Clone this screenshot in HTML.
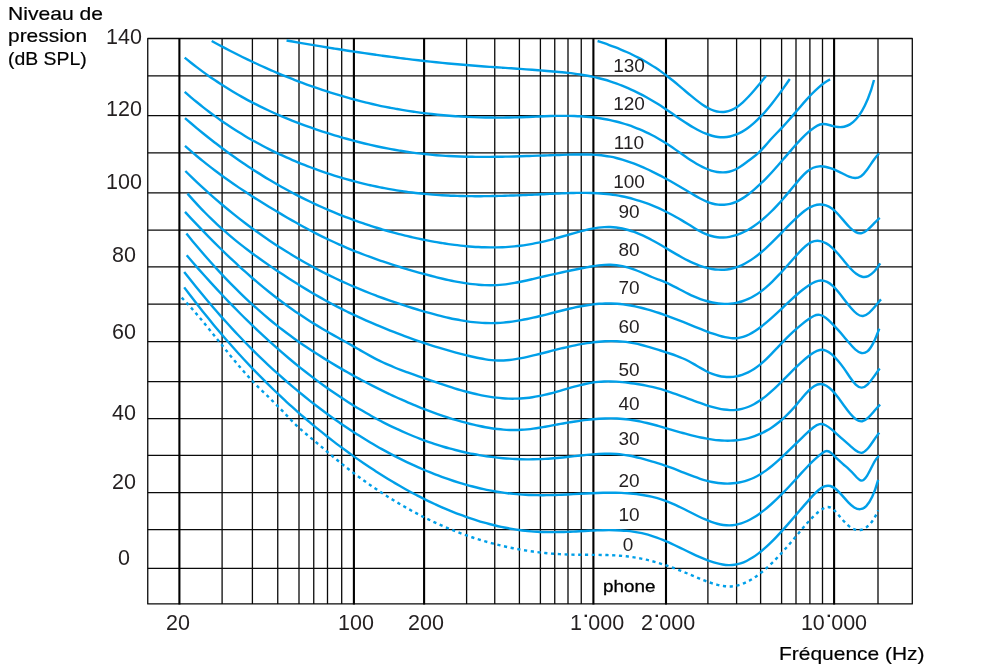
<!DOCTYPE html>
<html lang="fr"><head><meta charset="utf-8"><title>Courbes isosoniques</title>
<style>
html,body{margin:0;padding:0;background:#fff}
body{width:1000px;height:671px;position:relative;overflow:hidden;font-family:"Liberation Sans",sans-serif;color:#231f20}
.t{will-change:transform;position:absolute;white-space:nowrap;line-height:1;font-family:"Liberation Sans",sans-serif}
.d{color:#000;transform-origin:0 0}
.dr{color:#000;transform-origin:100% 0}
</style></head><body>
<svg width="1000" height="671" viewBox="0 0 1000 671" style="position:absolute;left:0;top:0">
<path d="M147.75 75.95H912.30M147.75 115.50H912.30M147.75 152.90H912.30M147.75 192.95H912.30M147.75 230.00H912.30M147.75 266.95H912.30M147.75 304.00H912.30M147.75 341.50H912.30M147.75 381.50H912.30M147.75 418.50H912.30M147.75 455.30H912.30M147.75 492.50H912.30M147.75 529.50H912.30M147.75 568.40H912.30" stroke="#0a0a0a" stroke-width="1.25" fill="none"/>
<path d="M222.10 38.50V603.95M252.40 38.50V603.95M277.75 38.50V603.95M299.00 38.50V603.95M313.75 38.50V603.95M327.50 38.50V603.95M341.70 38.50V603.95M466.60 38.50V603.95M494.75 38.50V603.95M519.40 38.50V603.95M540.40 38.50V603.95M554.75 38.50V603.95M568.00 38.50V603.95M581.25 38.50V603.95M707.90 38.50V603.95M736.60 38.50V603.95M760.60 38.50V603.95M781.60 38.50V603.95M796.00 38.50V603.95M809.90 38.50V603.95M822.50 38.50V603.95M878.00 38.50V603.95" stroke="#0a0a0a" stroke-width="1.3" fill="none"/>
<path d="M147.75 38.50H912.30V603.95H147.75Z" stroke="#0a0a0a" stroke-width="1.3" fill="none" stroke-linejoin="round"/>
<path d="M179.40 38.00V604.45M353.90 38.00V604.45M424.10 38.00V604.45M593.40 38.00V604.45M666.00 38.00V604.45M834.10 38.00V604.45" stroke="#000" stroke-width="2.1" fill="none"/>
<path d="M597.60 41.00C599.54 41.64 601.47 42.29 603.41 42.95C605.35 43.62 607.28 44.30 609.22 45.01C611.16 45.71 613.09 46.44 615.03 47.19C616.97 47.94 618.90 48.72 620.84 49.52C622.78 50.33 624.71 51.16 626.65 52.02C628.59 52.89 630.53 53.79 632.46 54.72C634.40 55.65 636.34 56.62 638.27 57.63C640.21 58.64 642.15 59.69 644.08 60.78C646.02 61.87 647.96 63.00 649.89 64.19C651.83 65.37 653.77 66.59 655.70 67.87C657.64 69.15 659.58 70.48 661.51 71.86C663.45 73.25 665.39 74.68 667.32 76.18C669.26 77.67 671.20 79.22 673.13 80.80C675.07 82.38 677.01 83.99 678.94 85.62C680.88 87.25 682.82 88.90 684.76 90.54C686.69 92.18 688.63 93.83 690.57 95.44C692.50 97.05 694.44 98.64 696.38 100.14C698.31 101.65 700.25 103.09 702.19 104.40C704.12 105.72 706.06 106.91 708.00 107.95C709.93 108.99 711.87 109.86 713.81 110.53C715.74 111.20 717.68 111.67 719.62 111.88C721.55 112.10 723.49 112.06 725.43 111.76C727.36 111.46 729.30 110.90 731.24 110.08C733.17 109.27 735.11 108.20 737.05 106.89C738.99 105.57 740.92 104.02 742.86 102.28C744.80 100.54 746.73 98.60 748.67 96.54C750.61 94.47 752.54 92.27 754.48 90.00C756.42 87.73 758.35 85.40 760.29 83.06C762.23 80.71 764.16 78.37 766.10 76.09" stroke="#009fe8" stroke-width="2.4" fill="none" stroke-linecap="butt" stroke-linejoin="round"/>
<path d="M286.55 40.49C288.55 40.84 290.54 41.19 292.54 41.54C294.54 41.89 296.54 42.23 298.53 42.58C300.53 42.92 302.53 43.26 304.52 43.60C306.52 43.94 308.52 44.28 310.51 44.62C312.51 44.96 314.51 45.29 316.51 45.62C318.50 45.95 320.50 46.29 322.50 46.61C324.49 46.94 326.49 47.27 328.49 47.59C330.48 47.91 332.48 48.24 334.48 48.56C336.48 48.87 338.47 49.19 340.47 49.50C342.47 49.82 344.46 50.13 346.46 50.44C348.46 50.75 350.45 51.06 352.45 51.36C354.45 51.66 356.45 51.96 358.44 52.26C360.44 52.56 362.44 52.86 364.43 53.15C366.43 53.44 368.43 53.73 370.43 54.02C372.42 54.30 374.42 54.59 376.42 54.87C378.41 55.15 380.41 55.43 382.41 55.70C384.40 55.98 386.40 56.25 388.40 56.52C390.40 56.78 392.39 57.05 394.39 57.31C396.39 57.57 398.38 57.83 400.38 58.08C402.38 58.34 404.37 58.59 406.37 58.84C408.37 59.08 410.37 59.33 412.36 59.57C414.36 59.81 416.36 60.04 418.35 60.27C420.35 60.51 422.35 60.74 424.34 60.96C426.34 61.19 428.34 61.41 430.34 61.62C432.33 61.84 434.33 62.05 436.33 62.26C438.32 62.47 440.32 62.67 442.32 62.88C444.31 63.08 446.31 63.27 448.31 63.46C450.31 63.66 452.30 63.84 454.30 64.03C456.30 64.21 458.29 64.39 460.29 64.56C462.29 64.74 464.29 64.91 466.28 65.07C468.28 65.24 470.28 65.40 472.27 65.55C474.27 65.71 476.27 65.86 478.26 66.01C480.26 66.16 482.26 66.31 484.26 66.45C486.25 66.59 488.25 66.74 490.25 66.87C492.24 67.01 494.24 67.15 496.24 67.29C498.23 67.42 500.23 67.56 502.23 67.69C504.23 67.83 506.22 67.96 508.22 68.10C510.22 68.23 512.21 68.36 514.21 68.50C516.21 68.63 518.20 68.77 520.20 68.91C522.20 69.05 524.20 69.19 526.19 69.33C528.19 69.47 530.19 69.61 532.18 69.76C534.18 69.91 536.18 70.06 538.17 70.21C540.17 70.37 542.17 70.52 544.17 70.69C546.16 70.85 548.16 71.01 550.16 71.19C552.15 71.36 554.15 71.53 556.15 71.72C558.15 71.90 560.14 72.09 562.14 72.29C564.14 72.49 566.13 72.70 568.13 72.93C570.13 73.15 572.12 73.39 574.12 73.65C576.12 73.91 578.12 74.19 580.11 74.50C582.11 74.80 584.11 75.13 586.10 75.48C588.10 75.83 590.10 76.22 592.09 76.63C594.09 77.04 596.09 77.49 598.09 77.97C600.08 78.45 602.08 78.97 604.08 79.53C606.07 80.08 608.07 80.68 610.07 81.32C612.06 81.96 614.06 82.65 616.06 83.37C618.06 84.10 620.05 84.86 622.05 85.66C624.05 86.47 626.04 87.31 628.04 88.19C630.04 89.07 632.04 89.98 634.03 90.93C636.03 91.88 638.03 92.87 640.02 93.89C642.02 94.90 644.02 95.95 646.01 97.04C648.01 98.13 650.01 99.26 652.01 100.43C654.00 101.60 656.00 102.82 658.00 104.08C659.99 105.34 661.99 106.65 663.99 107.98C665.98 109.31 667.98 110.67 669.98 112.04C671.98 113.41 673.97 114.78 675.97 116.15C677.97 117.52 679.96 118.88 681.96 120.21C683.96 121.55 685.95 122.85 687.95 124.12C689.95 125.38 691.95 126.60 693.94 127.76C695.94 128.91 697.94 130.00 699.93 131.01C701.93 132.01 703.93 132.92 705.92 133.72C707.92 134.52 709.92 135.21 711.92 135.76C713.91 136.32 715.91 136.74 717.91 137.00C719.90 137.26 721.90 137.36 723.90 137.29C725.90 137.21 727.89 136.96 729.89 136.53C731.89 136.10 733.88 135.49 735.88 134.72C737.88 133.94 739.87 132.99 741.87 131.88C743.87 130.76 745.87 129.47 747.86 128.02C749.86 126.57 751.86 124.96 753.85 123.19C755.85 121.42 757.85 119.51 759.84 117.46C761.84 115.41 763.84 113.23 765.84 110.93C767.83 108.63 769.83 106.22 771.83 103.71C773.82 101.19 775.82 98.58 777.82 95.89C779.81 93.20 781.81 90.43 783.81 87.61C785.81 84.78 787.80 81.90 789.80 78.98" stroke="#009fe8" stroke-width="2.4" fill="none" stroke-linecap="butt" stroke-linejoin="round"/>
<path d="M211.70 41.02C213.68 42.11 215.66 43.19 217.65 44.25C219.63 45.32 221.61 46.37 223.59 47.42C225.57 48.46 227.56 49.49 229.54 50.52C231.52 51.54 233.50 52.55 235.48 53.55C237.47 54.54 239.45 55.53 241.43 56.51C243.41 57.48 245.39 58.45 247.38 59.40C249.36 60.35 251.34 61.29 253.32 62.22C255.31 63.15 257.29 64.07 259.27 64.98C261.25 65.89 263.23 66.78 265.22 67.67C267.20 68.55 269.18 69.42 271.16 70.28C273.14 71.14 275.13 71.99 277.11 72.83C279.09 73.67 281.07 74.49 283.05 75.31C285.04 76.12 287.02 76.93 289.00 77.72C290.98 78.51 292.96 79.29 294.95 80.05C296.93 80.82 298.91 81.58 300.89 82.32C302.87 83.07 304.86 83.80 306.84 84.52C308.82 85.24 310.80 85.95 312.78 86.65C314.77 87.34 316.75 88.03 318.73 88.70C320.71 89.37 322.69 90.04 324.68 90.68C326.66 91.33 328.64 91.97 330.62 92.60C332.61 93.22 334.59 93.84 336.57 94.44C338.55 95.04 340.53 95.63 342.52 96.21C344.50 96.79 346.48 97.35 348.46 97.90C350.44 98.46 352.43 99.00 354.41 99.53C356.39 100.06 358.37 100.58 360.35 101.08C362.34 101.59 364.32 102.08 366.30 102.56C368.28 103.04 370.26 103.51 372.25 103.97C374.23 104.43 376.21 104.87 378.19 105.30C380.17 105.74 382.16 106.16 384.14 106.56C386.12 106.97 388.10 107.37 390.08 107.75C392.07 108.13 394.05 108.51 396.03 108.86C398.01 109.22 399.99 109.57 401.98 109.91C403.96 110.24 405.94 110.56 407.92 110.88C409.91 111.19 411.89 111.49 413.87 111.77C415.85 112.06 417.83 112.34 419.82 112.60C421.80 112.87 423.78 113.12 425.76 113.37C427.74 113.61 429.73 113.84 431.71 114.06C433.69 114.28 435.67 114.49 437.65 114.69C439.64 114.89 441.62 115.08 443.60 115.26C445.58 115.43 447.56 115.60 449.55 115.76C451.53 115.91 453.51 116.06 455.49 116.19C457.47 116.33 459.46 116.46 461.44 116.57C463.42 116.69 465.40 116.79 467.38 116.89C469.37 116.98 471.35 117.07 473.33 117.14C475.31 117.22 477.29 117.29 479.28 117.34C481.26 117.40 483.24 117.45 485.22 117.49C487.21 117.52 489.19 117.55 491.17 117.57C493.15 117.59 495.13 117.60 497.12 117.60C499.10 117.61 501.08 117.60 503.06 117.58C505.04 117.57 507.03 117.54 509.01 117.51C510.99 117.47 512.97 117.43 514.95 117.38C516.94 117.33 518.92 117.27 520.90 117.21C522.88 117.14 524.86 117.06 526.85 116.99C528.83 116.91 530.81 116.83 532.79 116.74C534.77 116.66 536.76 116.58 538.74 116.49C540.72 116.41 542.70 116.33 544.68 116.26C546.67 116.19 548.65 116.12 550.63 116.06C552.61 116.00 554.59 115.95 556.58 115.91C558.56 115.88 560.54 115.85 562.52 115.84C564.51 115.83 566.49 115.84 568.47 115.86C570.45 115.89 572.43 115.93 574.42 116.00C576.40 116.07 578.38 116.15 580.36 116.27C582.34 116.38 584.33 116.52 586.31 116.69C588.29 116.86 590.27 117.05 592.25 117.28C594.24 117.50 596.22 117.75 598.20 118.04C600.18 118.33 602.16 118.64 604.15 119.00C606.13 119.35 608.11 119.73 610.09 120.15C612.07 120.57 614.06 121.03 616.04 121.53C618.02 122.02 620.00 122.55 621.98 123.13C623.97 123.70 625.95 124.31 627.93 124.96C629.91 125.62 631.89 126.31 633.88 127.06C635.86 127.80 637.84 128.58 639.82 129.41C641.81 130.24 643.79 131.12 645.77 132.04C647.75 132.96 649.73 133.94 651.72 134.96C653.70 135.98 655.68 137.05 657.66 138.18C659.64 139.30 661.63 140.48 663.61 141.71C665.59 142.94 667.57 144.23 669.55 145.56C671.54 146.89 673.52 148.26 675.50 149.64C677.48 151.03 679.46 152.42 681.45 153.81C683.43 155.20 685.41 156.57 687.39 157.91C689.37 159.25 691.36 160.55 693.34 161.79C695.32 163.02 697.30 164.20 699.28 165.28C701.27 166.37 703.25 167.37 705.23 168.25C707.21 169.13 709.19 169.90 711.18 170.53C713.16 171.16 715.14 171.65 717.12 171.97C719.11 172.29 721.09 172.45 723.07 172.42C725.05 172.39 727.03 172.16 729.02 171.72C731.00 171.28 732.98 170.62 734.96 169.72C736.94 168.82 738.93 167.65 740.91 166.33C742.89 165.00 744.87 163.52 746.85 162.02C748.84 160.52 750.82 159.05 752.80 157.50C754.78 155.96 756.76 154.34 758.75 152.51C760.73 150.68 762.71 148.58 764.69 146.35C766.67 144.12 768.66 141.79 770.64 139.56C772.62 137.34 774.60 135.27 776.58 133.24C778.57 131.22 780.55 129.22 782.53 127.11C784.51 125.00 786.49 122.79 788.48 120.53C790.46 118.27 792.44 115.96 794.42 113.63C796.41 111.31 798.39 108.97 800.37 106.67C802.35 104.36 804.33 102.08 806.32 99.88C808.30 97.67 810.28 95.53 812.26 93.51C814.24 91.48 816.23 89.57 818.21 87.81C820.19 86.05 822.17 84.44 824.15 83.02C826.14 81.61 828.12 80.38 830.10 79.40" stroke="#009fe8" stroke-width="2.4" fill="none" stroke-linecap="butt" stroke-linejoin="round"/>
<path d="M184.70 57.69C186.70 59.33 188.70 60.94 190.69 62.51C192.69 64.09 194.69 65.64 196.69 67.16C198.69 68.67 200.68 70.16 202.68 71.62C204.68 73.08 206.68 74.51 208.68 75.92C210.67 77.32 212.67 78.70 214.67 80.04C216.67 81.39 218.67 82.71 220.66 84.01C222.66 85.30 224.66 86.57 226.66 87.82C228.66 89.06 230.65 90.28 232.65 91.47C234.65 92.67 236.65 93.84 238.65 94.98C240.64 96.13 242.64 97.25 244.64 98.35C246.64 99.45 248.64 100.53 250.63 101.58C252.63 102.64 254.63 103.67 256.63 104.68C258.62 105.70 260.62 106.69 262.62 107.66C264.62 108.63 266.62 109.58 268.61 110.51C270.61 111.44 272.61 112.35 274.61 113.24C276.61 114.14 278.60 115.01 280.60 115.87C282.60 116.73 284.60 117.56 286.60 118.39C288.59 119.21 290.59 120.01 292.59 120.80C294.59 121.59 296.59 122.36 298.58 123.12C300.58 123.88 302.58 124.62 304.58 125.35C306.58 126.08 308.57 126.79 310.57 127.49C312.57 128.19 314.57 128.88 316.57 129.55C318.56 130.23 320.56 130.89 322.56 131.54C324.56 132.19 326.56 132.83 328.55 133.45C330.55 134.08 332.55 134.69 334.55 135.30C336.55 135.90 338.54 136.49 340.54 137.07C342.54 137.66 344.54 138.22 346.54 138.78C348.53 139.34 350.53 139.88 352.53 140.42C354.53 140.95 356.53 141.47 358.52 141.98C360.52 142.49 362.52 142.99 364.52 143.47C366.52 143.96 368.51 144.43 370.51 144.89C372.51 145.35 374.51 145.79 376.51 146.23C378.50 146.66 380.50 147.08 382.50 147.49C384.50 147.90 386.50 148.29 388.49 148.67C390.49 149.06 392.49 149.42 394.49 149.78C396.48 150.13 398.48 150.47 400.48 150.80C402.48 151.13 404.48 151.44 406.47 151.74C408.47 152.04 410.47 152.33 412.47 152.60C414.47 152.87 416.46 153.13 418.46 153.37C420.46 153.62 422.46 153.85 424.46 154.06C426.45 154.28 428.45 154.48 430.45 154.66C432.45 154.85 434.45 155.02 436.44 155.18C438.44 155.34 440.44 155.49 442.44 155.62C444.44 155.76 446.43 155.88 448.43 155.99C450.43 156.10 452.43 156.20 454.43 156.29C456.42 156.37 458.42 156.45 460.42 156.52C462.42 156.59 464.42 156.64 466.41 156.69C468.41 156.74 470.41 156.78 472.41 156.81C474.41 156.84 476.40 156.86 478.40 156.87C480.40 156.89 482.40 156.89 484.40 156.89C486.39 156.89 488.39 156.88 490.39 156.87C492.39 156.85 494.39 156.83 496.38 156.80C498.38 156.78 500.38 156.74 502.38 156.71C504.38 156.67 506.37 156.63 508.37 156.58C510.37 156.53 512.37 156.48 514.37 156.43C516.36 156.37 518.36 156.32 520.36 156.26C522.36 156.20 524.36 156.13 526.35 156.07C528.35 156.00 530.35 155.94 532.35 155.87C534.34 155.80 536.34 155.73 538.34 155.66C540.34 155.59 542.34 155.52 544.33 155.45C546.33 155.38 548.33 155.31 550.33 155.24C552.33 155.17 554.32 155.10 556.32 155.04C558.32 154.97 560.32 154.91 562.32 154.84C564.31 154.78 566.31 154.72 568.31 154.67C570.31 154.61 572.31 154.56 574.30 154.51C576.30 154.47 578.30 154.44 580.30 154.43C582.30 154.42 584.29 154.43 586.29 154.46C588.29 154.50 590.29 154.56 592.29 154.66C594.28 154.75 596.28 154.88 598.28 155.06C600.28 155.23 602.28 155.45 604.27 155.71C606.27 155.98 608.27 156.30 610.27 156.67C612.27 157.05 614.26 157.48 616.26 157.97C618.26 158.45 620.26 159.00 622.26 159.59C624.25 160.18 626.25 160.82 628.25 161.51C630.25 162.19 632.25 162.92 634.24 163.69C636.24 164.47 638.24 165.28 640.24 166.13C642.24 166.98 644.23 167.86 646.23 168.78C648.23 169.69 650.23 170.64 652.23 171.61C654.22 172.59 656.22 173.59 658.22 174.61C660.22 175.64 662.22 176.69 664.21 177.76C666.21 178.83 668.21 179.93 670.21 181.04C672.20 182.15 674.20 183.29 676.20 184.44C678.20 185.59 680.20 186.75 682.19 187.93C684.19 189.11 686.19 190.31 688.19 191.51C690.19 192.72 692.18 193.94 694.18 195.12C696.18 196.31 698.18 197.45 700.18 198.52C702.17 199.58 704.17 200.55 706.17 201.39C708.17 202.23 710.17 202.93 712.16 203.47C714.16 204.01 716.16 204.39 718.16 204.61C720.16 204.82 722.15 204.87 724.15 204.75C726.15 204.62 728.15 204.31 730.15 203.82C732.14 203.33 734.14 202.66 736.14 201.78C738.14 200.91 740.14 199.84 742.13 198.61C744.13 197.38 746.13 195.99 748.13 194.49C750.13 192.98 752.12 191.36 754.12 189.65C756.12 187.93 758.12 186.12 760.12 184.22C762.11 182.32 764.11 180.34 766.11 178.29C768.11 176.23 770.11 174.11 772.10 171.94C774.10 169.77 776.10 167.54 778.10 165.27C780.10 163.00 782.09 160.69 784.09 158.37C786.09 156.04 788.09 153.70 790.09 151.39C792.08 149.07 794.08 146.78 796.08 144.56C798.08 142.33 800.08 140.17 802.07 138.13C804.07 136.08 806.07 134.16 808.07 132.40C810.06 130.64 812.06 129.05 814.06 127.69C816.06 126.32 818.06 125.09 820.05 124.48C822.05 123.87 824.05 123.92 826.05 124.25C828.05 124.59 830.04 125.22 832.04 125.79C834.04 126.36 836.04 126.82 838.04 127.02C840.03 127.22 842.03 127.16 844.03 126.76C846.03 126.35 848.03 125.59 850.02 124.38C852.02 123.16 854.02 121.50 856.02 119.28C858.02 117.06 860.01 114.29 862.01 110.86C864.01 107.44 866.01 103.39 868.01 98.53C870.00 93.67 872.00 87.88 874.00 79.94" stroke="#009fe8" stroke-width="2.4" fill="none" stroke-linecap="butt" stroke-linejoin="round"/>
<path d="M184.70 91.90C186.70 93.65 188.69 95.37 190.69 97.06C192.68 98.75 194.68 100.41 196.67 102.03C198.67 103.66 200.66 105.26 202.66 106.83C204.65 108.40 206.65 109.93 208.64 111.44C210.64 112.95 212.63 114.43 214.63 115.89C216.62 117.34 218.62 118.77 220.61 120.16C222.61 121.56 224.60 122.93 226.60 124.28C228.59 125.62 230.59 126.94 232.58 128.23C234.58 129.52 236.57 130.79 238.57 132.03C240.56 133.27 242.56 134.49 244.55 135.68C246.55 136.87 248.54 138.04 250.54 139.18C252.53 140.33 254.53 141.45 256.52 142.55C258.52 143.65 260.51 144.72 262.51 145.78C264.50 146.83 266.50 147.86 268.49 148.87C270.49 149.88 272.49 150.87 274.48 151.84C276.48 152.81 278.47 153.76 280.47 154.69C282.46 155.62 284.46 156.53 286.45 157.42C288.45 158.31 290.44 159.18 292.44 160.03C294.43 160.89 296.43 161.72 298.42 162.54C300.42 163.36 302.41 164.16 304.41 164.94C306.40 165.73 308.40 166.50 310.39 167.25C312.39 168.00 314.38 168.73 316.38 169.46C318.37 170.18 320.37 170.88 322.36 171.57C324.36 172.26 326.35 172.93 328.35 173.59C330.34 174.25 332.34 174.90 334.33 175.53C336.33 176.16 338.32 176.77 340.32 177.37C342.31 177.97 344.31 178.55 346.30 179.12C348.30 179.69 350.29 180.24 352.29 180.78C354.28 181.32 356.28 181.84 358.27 182.35C360.27 182.86 362.27 183.35 364.26 183.83C366.26 184.31 368.25 184.78 370.25 185.23C372.24 185.68 374.24 186.11 376.23 186.53C378.23 186.95 380.22 187.36 382.22 187.75C384.21 188.14 386.21 188.52 388.20 188.88C390.20 189.25 392.19 189.60 394.19 189.93C396.18 190.26 398.18 190.58 400.17 190.89C402.17 191.19 404.16 191.49 406.16 191.76C408.15 192.04 410.15 192.30 412.14 192.55C414.14 192.80 416.13 193.03 418.13 193.25C420.12 193.48 422.12 193.68 424.11 193.87C426.11 194.07 428.10 194.25 430.10 194.41C432.09 194.58 434.09 194.73 436.08 194.87C438.08 195.01 440.07 195.14 442.07 195.25C444.06 195.37 446.06 195.47 448.06 195.56C450.05 195.65 452.05 195.73 454.04 195.80C456.04 195.88 458.03 195.94 460.03 195.99C462.02 196.04 464.02 196.08 466.01 196.11C468.01 196.14 470.00 196.16 472.00 196.17C473.99 196.19 475.99 196.19 477.98 196.19C479.98 196.19 481.97 196.18 483.97 196.16C485.96 196.14 487.96 196.12 489.95 196.08C491.95 196.05 493.94 196.02 495.94 195.97C497.93 195.93 499.93 195.88 501.92 195.83C503.92 195.77 505.91 195.71 507.91 195.65C509.90 195.59 511.90 195.52 513.89 195.45C515.89 195.37 517.88 195.30 519.88 195.22C521.87 195.14 523.87 195.06 525.86 194.98C527.86 194.89 529.85 194.81 531.85 194.72C533.85 194.63 535.84 194.54 537.84 194.45C539.83 194.36 541.83 194.27 543.82 194.18C545.82 194.09 547.81 194.00 549.81 193.91C551.80 193.82 553.80 193.72 555.79 193.64C557.79 193.55 559.78 193.46 561.78 193.37C563.77 193.29 565.77 193.21 567.76 193.15C569.76 193.08 571.75 193.02 573.75 192.97C575.74 192.93 577.74 192.89 579.73 192.87C581.73 192.86 583.72 192.86 585.72 192.88C587.71 192.89 589.71 192.93 591.70 193.00C593.70 193.06 595.69 193.15 597.69 193.26C599.68 193.38 601.68 193.52 603.67 193.69C605.67 193.87 607.66 194.07 609.66 194.31C611.65 194.55 613.65 194.82 615.64 195.14C617.64 195.45 619.64 195.80 621.63 196.20C623.63 196.59 625.62 197.03 627.62 197.50C629.61 197.98 631.61 198.49 633.60 199.05C635.60 199.61 637.59 200.20 639.59 200.84C641.58 201.48 643.58 202.16 645.57 202.88C647.57 203.60 649.56 204.36 651.56 205.16C653.55 205.96 655.55 206.81 657.54 207.69C659.54 208.57 661.53 209.50 663.53 210.46C665.52 211.43 667.52 212.44 669.51 213.48C671.51 214.53 673.50 215.61 675.50 216.72C677.49 217.84 679.49 218.98 681.48 220.15C683.48 221.32 685.47 222.52 687.47 223.74C689.46 224.95 691.46 226.19 693.45 227.40C695.45 228.62 697.44 229.80 699.44 230.90C701.43 231.99 703.43 233.01 705.42 233.88C707.42 234.75 709.42 235.47 711.41 236.03C713.41 236.58 715.40 236.98 717.40 237.22C719.39 237.46 721.39 237.55 723.38 237.50C725.38 237.44 727.37 237.23 729.37 236.89C731.36 236.55 733.36 236.06 735.35 235.45C737.35 234.83 739.34 234.08 741.34 233.21C743.33 232.33 745.33 231.33 747.32 230.21C749.32 229.09 751.31 227.85 753.31 226.50C755.30 225.15 757.30 223.69 759.29 222.12C761.29 220.55 763.28 218.88 765.28 217.10C767.27 215.33 769.27 213.46 771.26 211.50C773.26 209.54 775.25 207.48 777.25 205.34C779.24 203.20 781.24 200.98 783.23 198.68C785.23 196.38 787.22 194.02 789.22 191.62C791.21 189.23 793.21 186.81 795.21 184.42C797.20 182.02 799.20 179.62 801.19 177.41C803.19 175.19 805.18 173.16 807.18 171.50C809.17 169.83 811.17 168.57 813.16 167.74C815.16 166.91 817.15 166.47 819.15 166.33C821.14 166.19 823.14 166.34 825.13 166.70C827.13 167.06 829.12 167.63 831.12 168.35C833.11 169.06 835.11 169.92 837.10 170.84C839.10 171.77 841.09 172.76 843.09 173.76C845.08 174.75 847.08 175.79 849.07 176.60C851.07 177.42 853.06 178.00 855.06 178.03C857.05 178.06 859.05 177.55 861.04 176.16C863.04 174.78 865.03 172.45 867.03 169.72C869.02 166.99 871.02 163.87 873.01 160.97C875.01 158.07 877.00 155.38 879.00 153.50" stroke="#009fe8" stroke-width="2.4" fill="none" stroke-linecap="butt" stroke-linejoin="round"/>
<path d="M185.00 118.10C187.00 119.84 188.99 121.57 190.99 123.27C192.99 124.97 194.98 126.65 196.98 128.31C198.98 129.97 200.97 131.61 202.97 133.23C204.97 134.85 206.96 136.44 208.96 138.02C210.96 139.60 212.95 141.16 214.95 142.70C216.94 144.23 218.94 145.75 220.94 147.25C222.93 148.75 224.93 150.22 226.93 151.68C228.92 153.14 230.92 154.58 232.92 156.00C234.91 157.42 236.91 158.82 238.91 160.20C240.90 161.58 242.90 162.94 244.90 164.28C246.89 165.63 248.89 166.95 250.89 168.25C252.88 169.56 254.88 170.85 256.88 172.11C258.87 173.38 260.87 174.63 262.87 175.86C264.86 177.09 266.86 178.31 268.86 179.50C270.85 180.69 272.85 181.87 274.84 183.03C276.84 184.19 278.84 185.33 280.83 186.45C282.83 187.58 284.83 188.68 286.82 189.77C288.82 190.86 290.82 191.93 292.81 192.98C294.81 194.04 296.81 195.07 298.80 196.09C300.80 197.11 302.80 198.11 304.79 199.10C306.79 200.09 308.79 201.05 310.78 202.01C312.78 202.96 314.78 203.90 316.77 204.81C318.77 205.73 320.77 206.64 322.76 207.53C324.76 208.41 326.76 209.28 328.75 210.14C330.75 210.99 332.74 211.83 334.74 212.66C336.74 213.48 338.73 214.29 340.73 215.08C342.73 215.87 344.72 216.65 346.72 217.41C348.72 218.18 350.71 218.92 352.71 219.65C354.71 220.39 356.70 221.10 358.70 221.81C360.70 222.51 362.69 223.20 364.69 223.87C366.69 224.54 368.68 225.20 370.68 225.84C372.68 226.49 374.67 227.12 376.67 227.73C378.67 228.35 380.66 228.95 382.66 229.54C384.66 230.12 386.65 230.70 388.65 231.26C390.64 231.82 392.64 232.36 394.64 232.90C396.63 233.43 398.63 233.95 400.63 234.46C402.62 234.96 404.62 235.45 406.62 235.93C408.61 236.41 410.61 236.88 412.61 237.34C414.60 237.79 416.60 238.23 418.60 238.66C420.59 239.09 422.59 239.51 424.59 239.91C426.58 240.31 428.58 240.70 430.58 241.08C432.57 241.46 434.57 241.83 436.57 242.18C438.56 242.53 440.56 242.86 442.56 243.18C444.55 243.50 446.55 243.81 448.54 244.10C450.54 244.38 452.54 244.66 454.53 244.91C456.53 245.17 458.53 245.40 460.52 245.62C462.52 245.84 464.52 246.04 466.51 246.22C468.51 246.41 470.51 246.57 472.50 246.71C474.50 246.85 476.50 246.97 478.49 247.07C480.49 247.17 482.49 247.25 484.48 247.31C486.48 247.37 488.48 247.40 490.47 247.41C492.47 247.42 494.47 247.41 496.46 247.37C498.46 247.34 500.46 247.28 502.45 247.19C504.45 247.10 506.44 246.99 508.44 246.85C510.44 246.72 512.43 246.55 514.43 246.36C516.43 246.17 518.42 245.95 520.42 245.71C522.42 245.46 524.41 245.19 526.41 244.88C528.41 244.58 530.40 244.25 532.40 243.88C534.40 243.52 536.39 243.13 538.39 242.70C540.39 242.28 542.38 241.82 544.38 241.34C546.38 240.85 548.37 240.34 550.37 239.81C552.37 239.28 554.36 238.74 556.36 238.18C558.36 237.62 560.35 237.05 562.35 236.48C564.34 235.90 566.34 235.33 568.34 234.76C570.33 234.18 572.33 233.62 574.33 233.06C576.32 232.51 578.32 231.96 580.32 231.44C582.31 230.92 584.31 230.41 586.31 229.94C588.30 229.47 590.30 229.04 592.30 228.65C594.29 228.27 596.29 227.93 598.29 227.67C600.28 227.40 602.28 227.20 604.28 227.08C606.27 226.96 608.27 226.92 610.27 226.98C612.26 227.04 614.26 227.20 616.26 227.45C618.25 227.71 620.25 228.05 622.24 228.48C624.24 228.91 626.24 229.42 628.23 230.00C630.23 230.59 632.23 231.26 634.22 231.99C636.22 232.72 638.22 233.52 640.21 234.38C642.21 235.25 644.21 236.17 646.20 237.14C648.20 238.12 650.20 239.14 652.19 240.22C654.19 241.29 656.19 242.41 658.18 243.55C660.18 244.70 662.18 245.87 664.17 247.06C666.17 248.24 668.17 249.44 670.16 250.62C672.16 251.81 674.16 252.99 676.15 254.15C678.15 255.30 680.14 256.43 682.14 257.52C684.14 258.61 686.13 259.66 688.13 260.65C690.13 261.64 692.12 262.56 694.12 263.42C696.12 264.28 698.11 265.07 700.11 265.78C702.11 266.48 704.10 267.11 706.10 267.64C708.10 268.18 710.09 268.62 712.09 268.96C714.09 269.30 716.08 269.54 718.08 269.66C720.08 269.79 722.07 269.80 724.07 269.68C726.07 269.57 728.06 269.33 730.06 268.96C732.06 268.59 734.05 268.08 736.05 267.43C738.04 266.78 740.04 265.98 742.04 265.05C744.03 264.11 746.03 263.04 748.03 261.84C750.02 260.65 752.02 259.33 754.02 257.89C756.01 256.46 758.01 254.91 760.01 253.26C762.00 251.61 764.00 249.85 766.00 248.02C767.99 246.19 769.99 244.28 771.99 242.33C773.98 240.37 775.98 238.37 777.98 236.35C779.97 234.33 781.97 232.29 783.97 230.26C785.96 228.22 787.96 226.20 789.96 224.21C791.95 222.23 793.95 220.28 795.94 218.39C797.94 216.51 799.94 214.68 801.93 213.02C803.93 211.36 805.93 209.85 807.92 208.59C809.92 207.33 811.92 206.32 813.91 205.62C815.91 204.93 817.91 204.53 819.90 204.47C821.90 204.41 823.90 204.69 825.89 205.34C827.89 205.99 829.89 207.02 831.88 208.45C833.88 209.89 835.88 211.78 837.87 213.94C839.87 216.10 841.87 218.50 843.86 220.85C845.86 223.20 847.86 225.51 849.85 227.49C851.85 229.47 853.84 231.11 855.84 232.13C857.84 233.15 859.83 233.54 861.83 233.05C863.83 232.56 865.82 231.26 867.82 229.56C869.82 227.86 871.81 225.75 873.81 223.66C875.81 221.56 877.80 219.47 879.80 217.80" stroke="#009fe8" stroke-width="2.4" fill="none" stroke-linecap="butt" stroke-linejoin="round"/>
<path d="M185.00 145.80C187.00 147.60 189.00 149.36 190.99 151.10C192.99 152.83 194.99 154.54 196.99 156.21C198.98 157.88 200.98 159.53 202.98 161.14C204.98 162.76 206.97 164.35 208.97 165.91C210.97 167.48 212.97 169.01 214.97 170.53C216.96 172.04 218.96 173.53 220.96 175.00C222.96 176.46 224.95 177.91 226.95 179.33C228.95 180.75 230.95 182.15 232.94 183.54C234.94 184.92 236.94 186.28 238.94 187.63C240.94 188.97 242.93 190.30 244.93 191.61C246.93 192.93 248.93 194.22 250.92 195.51C252.92 196.79 254.92 198.06 256.92 199.31C258.91 200.57 260.91 201.81 262.91 203.04C264.91 204.28 266.91 205.50 268.90 206.71C270.90 207.92 272.90 209.13 274.90 210.32C276.89 211.52 278.89 212.71 280.89 213.89C282.89 215.07 284.89 216.24 286.88 217.41C288.88 218.57 290.88 219.72 292.88 220.87C294.87 222.01 296.87 223.14 298.87 224.25C300.87 225.37 302.86 226.47 304.86 227.56C306.86 228.65 308.86 229.72 310.86 230.77C312.85 231.82 314.85 232.86 316.85 233.88C318.85 234.89 320.84 235.89 322.84 236.87C324.84 237.85 326.84 238.81 328.83 239.75C330.83 240.70 332.83 241.62 334.83 242.53C336.83 243.44 338.82 244.33 340.82 245.21C342.82 246.09 344.82 246.95 346.81 247.79C348.81 248.64 350.81 249.47 352.81 250.28C354.80 251.10 356.80 251.90 358.80 252.68C360.80 253.47 362.80 254.24 364.79 255.00C366.79 255.75 368.79 256.50 370.79 257.23C372.78 257.96 374.78 258.67 376.78 259.38C378.78 260.08 380.77 260.77 382.77 261.45C384.77 262.13 386.77 262.80 388.77 263.46C390.76 264.11 392.76 264.76 394.76 265.39C396.76 266.03 398.75 266.65 400.75 267.26C402.75 267.88 404.75 268.48 406.74 269.08C408.74 269.67 410.74 270.25 412.74 270.83C414.74 271.40 416.73 271.97 418.73 272.53C420.73 273.09 422.73 273.64 424.72 274.18C426.72 274.72 428.72 275.25 430.72 275.78C432.71 276.30 434.71 276.81 436.71 277.31C438.71 277.81 440.71 278.29 442.70 278.76C444.70 279.23 446.70 279.68 448.70 280.11C450.69 280.54 452.69 280.95 454.69 281.34C456.69 281.73 458.69 282.09 460.68 282.43C462.68 282.78 464.68 283.09 466.68 283.38C468.67 283.67 470.67 283.93 472.67 284.15C474.67 284.38 476.66 284.58 478.66 284.74C480.66 284.90 482.66 285.03 484.66 285.13C486.65 285.22 488.65 285.27 490.65 285.28C492.65 285.28 494.64 285.23 496.64 285.13C498.64 285.02 500.64 284.87 502.63 284.66C504.63 284.45 506.63 284.20 508.63 283.91C510.63 283.62 512.62 283.29 514.62 282.93C516.62 282.58 518.62 282.19 520.61 281.78C522.61 281.36 524.61 280.93 526.61 280.48C528.60 280.04 530.60 279.57 532.60 279.11C534.60 278.64 536.60 278.16 538.59 277.69C540.59 277.22 542.59 276.75 544.59 276.29C546.58 275.83 548.58 275.37 550.58 274.92C552.58 274.46 554.57 274.01 556.57 273.57C558.57 273.13 560.57 272.69 562.57 272.25C564.56 271.82 566.56 271.39 568.56 270.97C570.56 270.54 572.55 270.13 574.55 269.71C576.55 269.30 578.55 268.89 580.54 268.49C582.54 268.09 584.54 267.69 586.54 267.31C588.54 266.93 590.53 266.57 592.53 266.25C594.53 265.92 596.53 265.64 598.52 265.41C600.52 265.17 602.52 264.99 604.52 264.88C606.51 264.78 608.51 264.74 610.51 264.78C612.51 264.83 614.51 264.97 616.50 265.19C618.50 265.42 620.50 265.74 622.50 266.14C624.49 266.54 626.49 267.03 628.49 267.60C630.49 268.18 632.49 268.84 634.48 269.58C636.48 270.32 638.48 271.14 640.48 272.01C642.47 272.88 644.47 273.78 646.47 274.68C648.47 275.57 650.46 276.44 652.46 277.25C654.46 278.06 656.46 278.81 658.46 279.56C660.45 280.31 662.45 281.06 664.45 281.88C666.45 282.71 668.44 283.61 670.44 284.59C672.44 285.56 674.44 286.59 676.43 287.64C678.43 288.69 680.43 289.76 682.43 290.81C684.43 291.87 686.42 292.90 688.42 293.88C690.42 294.87 692.42 295.79 694.41 296.65C696.41 297.51 698.41 298.31 700.41 299.04C702.40 299.77 704.40 300.43 706.40 301.00C708.40 301.58 710.40 302.08 712.39 302.49C714.39 302.91 716.39 303.23 718.39 303.47C720.38 303.70 722.38 303.84 724.38 303.87C726.38 303.91 728.37 303.85 730.37 303.67C732.37 303.50 734.37 303.21 736.37 302.81C738.36 302.41 740.36 301.89 742.36 301.25C744.36 300.61 746.35 299.84 748.35 298.94C750.35 298.04 752.35 297.00 754.34 295.83C756.34 294.66 758.34 293.34 760.34 291.88C762.34 290.42 764.33 288.81 766.33 287.07C768.33 285.34 770.33 283.48 772.32 281.54C774.32 279.59 776.32 277.55 778.32 275.44C780.31 273.33 782.31 271.16 784.31 268.95C786.31 266.75 788.31 264.50 790.30 262.25C792.30 259.99 794.30 257.73 796.30 255.48C798.29 253.24 800.29 251.02 802.29 249.03C804.29 247.03 806.29 245.26 808.28 243.90C810.28 242.55 812.28 241.64 814.28 241.19C816.27 240.73 818.27 240.71 820.27 241.09C822.27 241.47 824.26 242.25 826.26 243.38C828.26 244.51 830.26 245.99 832.26 247.79C834.25 249.59 836.25 251.72 838.25 254.03C840.25 256.33 842.24 258.80 844.24 261.23C846.24 263.66 848.24 266.06 850.23 268.22C852.23 270.37 854.23 272.30 856.23 273.79C858.23 275.28 860.22 276.33 862.22 276.76C864.22 277.18 866.22 276.94 868.21 276.05C870.21 275.16 872.21 273.64 874.21 271.53C876.20 269.42 878.20 266.72 880.20 263.49" stroke="#009fe8" stroke-width="2.4" fill="none" stroke-linecap="butt" stroke-linejoin="round"/>
<path d="M185.35 171.00C187.35 172.97 189.35 174.92 191.35 176.84C193.35 178.77 195.34 180.67 197.34 182.55C199.34 184.43 201.34 186.28 203.34 188.11C205.34 189.94 207.34 191.75 209.34 193.53C211.34 195.32 213.34 197.08 215.33 198.82C217.33 200.56 219.33 202.27 221.33 203.97C223.33 205.66 225.33 207.33 227.33 208.98C229.33 210.63 231.33 212.25 233.33 213.86C235.32 215.46 237.32 217.05 239.32 218.61C241.32 220.17 243.32 221.71 245.32 223.23C247.32 224.75 249.32 226.24 251.32 227.72C253.32 229.20 255.31 230.65 257.31 232.09C259.31 233.52 261.31 234.94 263.31 236.33C265.31 237.72 267.31 239.10 269.31 240.45C271.31 241.80 273.31 243.14 275.30 244.45C277.30 245.76 279.30 247.06 281.30 248.33C283.30 249.61 285.30 250.86 287.30 252.10C289.30 253.34 291.30 254.55 293.30 255.75C295.29 256.95 297.29 258.13 299.29 259.29C301.29 260.45 303.29 261.59 305.29 262.72C307.29 263.84 309.29 264.95 311.29 266.03C313.29 267.12 315.28 268.19 317.28 269.25C319.28 270.30 321.28 271.33 323.28 272.35C325.28 273.37 327.28 274.37 329.28 275.36C331.28 276.34 333.28 277.31 335.27 278.26C337.27 279.21 339.27 280.15 341.27 281.07C343.27 281.99 345.27 282.89 347.27 283.78C349.27 284.67 351.27 285.55 353.27 286.40C355.26 287.26 357.26 288.11 359.26 288.94C361.26 289.77 363.26 290.59 365.26 291.39C367.26 292.19 369.26 292.98 371.26 293.75C373.26 294.53 375.25 295.29 377.25 296.04C379.25 296.79 381.25 297.53 383.25 298.25C385.25 298.97 387.25 299.68 389.25 300.38C391.25 301.08 393.25 301.77 395.24 302.45C397.24 303.12 399.24 303.79 401.24 304.44C403.24 305.09 405.24 305.73 407.24 306.37C409.24 307.00 411.24 307.62 413.24 308.23C415.23 308.84 417.23 309.44 419.23 310.03C421.23 310.62 423.23 311.21 425.23 311.78C427.23 312.35 429.23 312.91 431.23 313.46C433.23 314.01 435.22 314.55 437.22 315.07C439.22 315.59 441.22 316.10 443.22 316.58C445.22 317.07 447.22 317.54 449.22 317.98C451.22 318.43 453.22 318.85 455.21 319.25C457.21 319.65 459.21 320.03 461.21 320.37C463.21 320.72 465.21 321.04 467.21 321.33C469.21 321.62 471.21 321.88 473.21 322.10C475.20 322.33 477.20 322.52 479.20 322.67C481.20 322.83 483.20 322.94 485.20 323.02C487.20 323.10 489.20 323.14 491.20 323.14C493.20 323.13 495.19 323.08 497.19 322.99C499.19 322.90 501.19 322.77 503.19 322.60C505.19 322.43 507.19 322.22 509.19 321.97C511.19 321.73 513.19 321.45 515.18 321.14C517.18 320.84 519.18 320.50 521.18 320.13C523.18 319.77 525.18 319.38 527.18 318.97C529.18 318.56 531.18 318.12 533.17 317.67C535.17 317.22 537.17 316.76 539.17 316.27C541.17 315.79 543.17 315.30 545.17 314.80C547.17 314.29 549.17 313.79 551.17 313.27C553.16 312.76 555.16 312.25 557.16 311.74C559.16 311.23 561.16 310.73 563.16 310.24C565.16 309.74 567.16 309.26 569.16 308.79C571.16 308.33 573.15 307.88 575.15 307.45C577.15 307.02 579.15 306.62 581.15 306.24C583.15 305.86 585.15 305.52 587.15 305.20C589.15 304.89 591.15 304.61 593.14 304.37C595.14 304.13 597.14 303.93 599.14 303.78C601.14 303.63 603.14 303.53 605.14 303.47C607.14 303.42 609.14 303.42 611.14 303.48C613.13 303.53 615.13 303.64 617.13 303.79C619.13 303.95 621.13 304.15 623.13 304.40C625.13 304.65 627.13 304.95 629.13 305.28C631.13 305.62 633.12 306.00 635.12 306.41C637.12 306.83 639.12 307.28 641.12 307.77C643.12 308.26 645.12 308.79 647.12 309.34C649.12 309.89 651.12 310.48 653.11 311.09C655.11 311.71 657.11 312.35 659.11 313.01C661.11 313.68 663.11 314.37 665.11 315.08C667.11 315.79 669.11 316.52 671.11 317.26C673.10 318.01 675.10 318.78 677.10 319.55C679.10 320.33 681.10 321.12 683.10 321.92C685.10 322.73 687.10 323.54 689.10 324.35C691.10 325.17 693.09 325.99 695.09 326.81C697.09 327.63 699.09 328.44 701.09 329.23C703.09 330.03 705.09 330.80 707.09 331.55C709.09 332.29 711.09 333.01 713.08 333.69C715.08 334.36 717.08 335.00 719.08 335.58C721.08 336.16 723.08 336.70 725.08 337.15C727.08 337.60 729.08 337.95 731.08 338.15C733.07 338.34 735.07 338.38 737.07 338.19C739.07 338.01 741.07 337.58 743.07 336.96C745.07 336.34 747.07 335.51 749.07 334.52C751.07 333.52 753.06 332.36 755.06 331.07C757.06 329.77 759.06 328.34 761.06 326.81C763.06 325.29 765.06 323.66 767.06 321.96C769.06 320.26 771.06 318.48 773.05 316.67C775.05 314.85 777.05 312.99 779.05 311.11C781.05 309.23 783.05 307.33 785.05 305.45C787.05 303.56 789.05 301.69 791.05 299.85C793.04 298.02 795.04 296.22 797.04 294.49C799.04 292.76 801.04 291.10 803.04 289.55C805.04 287.99 807.04 286.55 809.04 285.25C811.04 283.96 813.03 282.79 815.03 281.93C817.03 281.08 819.03 280.53 821.03 280.48C823.03 280.42 825.03 280.90 827.03 281.87C829.03 282.84 831.03 284.29 833.02 286.14C835.02 287.99 837.02 290.26 839.02 292.73C841.02 295.20 843.02 297.86 845.02 300.49C847.02 303.11 849.02 305.70 851.02 308.02C853.01 310.35 855.01 312.43 857.01 313.90C859.01 315.38 861.01 316.18 863.01 315.94C865.01 315.71 867.01 314.54 869.01 312.83C871.01 311.13 873.00 308.89 875.00 306.52C877.00 304.15 879.00 301.64 881.00 299.39" stroke="#009fe8" stroke-width="2.4" fill="none" stroke-linecap="butt" stroke-linejoin="round"/>
<path d="M187.50 193.60C189.49 195.90 191.48 198.15 193.46 200.35C195.45 202.55 197.44 204.70 199.43 206.80C201.42 208.91 203.40 210.96 205.39 212.97C207.38 214.98 209.37 216.94 211.36 218.87C213.34 220.79 215.33 222.67 217.32 224.51C219.31 226.35 221.29 228.15 223.28 229.91C225.27 231.68 227.26 233.40 229.25 235.10C231.23 236.79 233.22 238.45 235.21 240.08C237.20 241.71 239.19 243.31 241.17 244.87C243.16 246.44 245.15 247.98 247.14 249.50C249.13 251.02 251.11 252.50 253.10 253.97C255.09 255.44 257.08 256.88 259.07 258.31C261.05 259.73 263.04 261.14 265.03 262.52C267.02 263.91 269.01 265.28 270.99 266.63C272.98 267.99 274.97 269.33 276.96 270.66C278.94 271.99 280.93 273.31 282.92 274.61C284.91 275.92 286.90 277.21 288.88 278.49C290.87 279.77 292.86 281.04 294.85 282.30C296.84 283.55 298.82 284.79 300.81 286.02C302.80 287.25 304.79 288.46 306.78 289.65C308.76 290.85 310.75 292.03 312.74 293.20C314.73 294.36 316.72 295.51 318.70 296.64C320.69 297.78 322.68 298.89 324.67 299.99C326.66 301.08 328.64 302.16 330.63 303.22C332.62 304.29 334.61 305.33 336.59 306.35C338.58 307.38 340.57 308.39 342.56 309.38C344.55 310.38 346.53 311.35 348.52 312.32C350.51 313.28 352.50 314.22 354.49 315.16C356.47 316.09 358.46 317.01 360.45 317.91C362.44 318.82 364.43 319.71 366.41 320.59C368.40 321.46 370.39 322.33 372.38 323.18C374.37 324.04 376.35 324.88 378.34 325.71C380.33 326.54 382.32 327.36 384.31 328.17C386.29 328.98 388.28 329.78 390.27 330.58C392.26 331.37 394.24 332.15 396.23 332.92C398.22 333.69 400.21 334.45 402.20 335.20C404.18 335.96 406.17 336.70 408.16 337.43C410.15 338.16 412.14 338.87 414.12 339.58C416.11 340.29 418.10 340.98 420.09 341.66C422.08 342.34 424.06 343.01 426.05 343.67C428.04 344.32 430.03 344.96 432.02 345.59C434.00 346.22 435.99 346.84 437.98 347.44C439.97 348.05 441.96 348.64 443.94 349.22C445.93 349.80 447.92 350.37 449.91 350.92C451.89 351.48 453.88 352.02 455.87 352.56C457.86 353.09 459.85 353.61 461.83 354.12C463.82 354.63 465.81 355.13 467.80 355.62C469.79 356.10 471.77 356.58 473.76 357.03C475.75 357.47 477.74 357.90 479.73 358.29C481.71 358.67 483.70 359.02 485.69 359.33C487.68 359.63 489.67 359.88 491.65 360.08C493.64 360.27 495.63 360.41 497.62 360.47C499.61 360.53 501.59 360.52 503.58 360.43C505.57 360.34 507.56 360.18 509.54 359.96C511.53 359.73 513.52 359.45 515.51 359.13C517.50 358.81 519.48 358.44 521.47 358.06C523.46 357.67 525.45 357.25 527.44 356.82C529.42 356.38 531.41 355.92 533.40 355.45C535.39 354.98 537.38 354.49 539.36 353.99C541.35 353.49 543.34 352.99 545.33 352.48C547.32 351.97 549.30 351.46 551.29 350.95C553.28 350.44 555.27 349.94 557.26 349.44C559.24 348.95 561.23 348.46 563.22 347.99C565.21 347.51 567.19 347.05 569.18 346.61C571.17 346.16 573.16 345.73 575.15 345.33C577.13 344.92 579.12 344.53 581.11 344.17C583.10 343.81 585.09 343.47 587.07 343.17C589.06 342.86 591.05 342.58 593.04 342.34C595.03 342.09 597.01 341.88 599.00 341.71C600.99 341.53 602.98 341.39 604.97 341.30C606.95 341.20 608.94 341.15 610.93 341.14C612.92 341.13 614.91 341.16 616.89 341.25C618.88 341.33 620.87 341.47 622.86 341.66C624.84 341.85 626.83 342.09 628.82 342.39C630.81 342.68 632.80 343.04 634.78 343.44C636.77 343.83 638.76 344.28 640.75 344.76C642.74 345.24 644.72 345.76 646.71 346.31C648.70 346.86 650.69 347.44 652.68 348.03C654.66 348.63 656.65 349.25 658.64 349.88C660.63 350.51 662.62 351.15 664.60 351.80C666.59 352.45 668.58 353.09 670.57 353.76C672.56 354.42 674.54 355.11 676.53 355.85C678.52 356.58 680.51 357.37 682.49 358.23C684.48 359.08 686.47 360.02 688.46 361.05C690.45 362.09 692.43 363.23 694.42 364.39C696.41 365.56 698.40 366.76 700.39 367.91C702.37 369.07 704.36 370.19 706.35 371.20C708.34 372.20 710.33 373.09 712.31 373.85C714.30 374.60 716.29 375.22 718.28 375.71C720.27 376.20 722.25 376.56 724.24 376.77C726.23 376.98 728.22 377.06 730.21 376.99C732.19 376.92 734.18 376.71 736.17 376.35C738.16 375.99 740.14 375.48 742.13 374.82C744.12 374.16 746.11 373.35 748.10 372.39C750.08 371.42 752.07 370.30 754.06 369.01C756.05 367.73 758.04 366.28 760.02 364.66C762.01 363.05 764.00 361.26 765.99 359.36C767.98 357.46 769.96 355.44 771.95 353.37C773.94 351.31 775.93 349.19 777.92 347.09C779.90 344.98 781.89 342.89 783.88 340.87C785.87 338.84 787.86 336.86 789.84 334.96C791.83 333.05 793.82 331.20 795.81 329.44C797.79 327.67 799.78 325.98 801.77 324.37C803.76 322.77 805.75 321.25 807.73 319.83C809.72 318.41 811.71 317.02 813.70 316.02C815.69 315.02 817.67 314.53 819.66 314.86C821.65 315.20 823.64 316.23 825.63 317.69C827.61 319.15 829.60 321.04 831.59 323.08C833.58 325.12 835.57 327.26 837.55 329.43C839.54 331.60 841.53 333.83 843.52 336.16C845.51 338.48 847.49 340.96 849.48 343.32C851.47 345.67 853.46 347.89 855.44 349.61C857.43 351.34 859.42 352.58 861.41 352.98C863.40 353.39 865.38 352.97 867.37 351.37C869.36 349.77 871.35 346.87 873.34 342.86C875.32 338.86 877.31 333.87 879.30 328.57" stroke="#009fe8" stroke-width="2.4" fill="none" stroke-linecap="butt" stroke-linejoin="round"/>
<path d="M185.00 211.90C187.00 214.07 188.99 216.21 190.99 218.35C192.99 220.48 194.98 222.59 196.98 224.69C198.97 226.79 200.97 228.87 202.97 230.93C204.96 233.00 206.96 235.04 208.96 237.07C210.95 239.10 212.95 241.11 214.94 243.10C216.94 245.09 218.94 247.06 220.93 249.01C222.93 250.96 224.93 252.89 226.92 254.80C228.92 256.71 230.91 258.61 232.91 260.48C234.91 262.35 236.90 264.20 238.90 266.02C240.90 267.85 242.89 269.66 244.89 271.44C246.88 273.23 248.88 274.99 250.88 276.73C252.87 278.47 254.87 280.18 256.87 281.88C258.86 283.57 260.86 285.24 262.85 286.88C264.85 288.53 266.85 290.15 268.84 291.75C270.84 293.34 272.84 294.92 274.83 296.46C276.83 298.01 278.82 299.53 280.82 301.03C282.82 302.52 284.81 303.99 286.81 305.44C288.81 306.88 290.80 308.31 292.80 309.70C294.79 311.10 296.79 312.47 298.79 313.83C300.78 315.18 302.78 316.51 304.78 317.81C306.77 319.12 308.77 320.40 310.76 321.67C312.76 322.93 314.76 324.17 316.75 325.39C318.75 326.61 320.75 327.81 322.74 329.00C324.74 330.18 326.73 331.34 328.73 332.48C330.73 333.62 332.72 334.75 334.72 335.87C336.72 336.98 338.71 338.09 340.71 339.20C342.70 340.30 344.70 341.41 346.70 342.52C348.69 343.63 350.69 344.75 352.69 345.88C354.68 347.01 356.68 348.17 358.68 349.32C360.67 350.48 362.67 351.63 364.66 352.78C366.66 353.92 368.66 355.05 370.65 356.15C372.65 357.24 374.65 358.31 376.64 359.33C378.64 360.34 380.63 361.32 382.63 362.26C384.63 363.20 386.62 364.10 388.62 364.97C390.62 365.84 392.61 366.68 394.61 367.49C396.60 368.30 398.60 369.09 400.60 369.85C402.59 370.62 404.59 371.36 406.59 372.09C408.58 372.82 410.58 373.53 412.57 374.23C414.57 374.94 416.57 375.63 418.56 376.32C420.56 377.01 422.56 377.69 424.55 378.38C426.55 379.06 428.54 379.75 430.54 380.43C432.54 381.11 434.53 381.79 436.53 382.47C438.53 383.14 440.52 383.81 442.52 384.47C444.51 385.12 446.51 385.77 448.51 386.41C450.50 387.05 452.50 387.67 454.50 388.28C456.49 388.89 458.49 389.48 460.48 390.05C462.48 390.63 464.48 391.18 466.47 391.72C468.47 392.25 470.47 392.76 472.46 393.25C474.46 393.73 476.45 394.20 478.45 394.63C480.45 395.06 482.44 395.47 484.44 395.84C486.44 396.21 488.43 396.55 490.43 396.86C492.42 397.17 494.42 397.44 496.42 397.67C498.41 397.91 500.41 398.10 502.41 398.26C504.40 398.41 506.40 398.53 508.39 398.60C510.39 398.67 512.39 398.69 514.38 398.67C516.38 398.65 518.38 398.58 520.37 398.46C522.37 398.34 524.36 398.17 526.36 397.96C528.36 397.75 530.35 397.49 532.35 397.19C534.35 396.89 536.34 396.55 538.34 396.17C540.34 395.79 542.33 395.38 544.33 394.93C546.32 394.49 548.32 394.01 550.32 393.50C552.31 393.00 554.31 392.46 556.31 391.91C558.30 391.35 560.30 390.77 562.29 390.19C564.29 389.60 566.29 389.01 568.28 388.43C570.28 387.84 572.28 387.26 574.27 386.71C576.27 386.15 578.26 385.61 580.26 385.11C582.26 384.60 584.25 384.14 586.25 383.72C588.25 383.30 590.24 382.92 592.24 382.62C594.23 382.31 596.23 382.06 598.23 381.88C600.22 381.69 602.22 381.57 604.22 381.50C606.21 381.42 608.21 381.40 610.20 381.43C612.20 381.46 614.20 381.53 616.19 381.64C618.19 381.75 620.19 381.90 622.18 382.08C624.18 382.26 626.17 382.47 628.17 382.71C630.17 382.95 632.16 383.21 634.16 383.50C636.16 383.79 638.15 384.11 640.15 384.46C642.14 384.81 644.14 385.19 646.14 385.60C648.13 386.01 650.13 386.44 652.13 386.91C654.12 387.39 656.12 387.89 658.11 388.42C660.11 388.96 662.11 389.53 664.10 390.13C666.10 390.73 668.10 391.37 670.09 392.04C672.09 392.71 674.08 393.41 676.08 394.12C678.08 394.84 680.07 395.57 682.07 396.31C684.07 397.06 686.06 397.81 688.06 398.56C690.05 399.31 692.05 400.06 694.05 400.80C696.04 401.53 698.04 402.26 700.04 402.97C702.03 403.68 704.03 404.36 706.02 405.02C708.02 405.67 710.02 406.30 712.01 406.88C714.01 407.46 716.01 407.98 718.00 408.44C720.00 408.89 722.00 409.28 723.99 409.56C725.99 409.85 727.98 410.04 729.98 410.10C731.98 410.17 733.97 410.12 735.97 409.92C737.97 409.73 739.96 409.39 741.96 408.90C743.95 408.41 745.95 407.78 747.95 407.00C749.94 406.22 751.94 405.30 753.94 404.23C755.93 403.16 757.93 401.95 759.92 400.59C761.92 399.24 763.92 397.74 765.91 396.12C767.91 394.50 769.91 392.77 771.90 390.95C773.90 389.14 775.89 387.25 777.89 385.31C779.89 383.37 781.88 381.38 783.88 379.37C785.88 377.37 787.87 375.35 789.87 373.36C791.86 371.36 793.86 369.38 795.86 367.45C797.85 365.53 799.85 363.65 801.85 361.87C803.84 360.08 805.84 358.38 807.83 356.80C809.83 355.22 811.83 353.72 813.82 352.50C815.82 351.28 817.82 350.36 819.81 349.97C821.81 349.57 823.80 349.78 825.80 350.57C827.80 351.37 829.79 352.71 831.79 354.41C833.79 356.11 835.78 358.14 837.78 360.43C839.77 362.71 841.77 365.27 843.77 368.08C845.76 370.89 847.76 374.03 849.76 376.97C851.75 379.91 853.75 382.63 855.74 384.56C857.74 386.49 859.74 387.66 861.73 387.61C863.73 387.56 865.73 386.27 867.72 384.30C869.72 382.32 871.71 379.66 873.71 376.84C875.71 374.03 877.70 371.06 879.70 368.49" stroke="#009fe8" stroke-width="2.4" fill="none" stroke-linecap="butt" stroke-linejoin="round"/>
<path d="M186.40 233.60C188.39 236.07 190.39 238.50 192.38 240.91C194.37 243.31 196.37 245.69 198.36 248.04C200.36 250.38 202.35 252.70 204.34 254.99C206.34 257.28 208.33 259.54 210.32 261.77C212.32 264.00 214.31 266.20 216.31 268.37C218.30 270.55 220.29 272.69 222.29 274.80C224.28 276.92 226.27 279.00 228.27 281.06C230.26 283.12 232.25 285.14 234.25 287.14C236.24 289.14 238.24 291.11 240.23 293.05C242.22 294.99 244.22 296.90 246.21 298.78C248.20 300.66 250.20 302.51 252.19 304.34C254.19 306.16 256.18 307.96 258.17 309.72C260.17 311.49 262.16 313.23 264.15 314.94C266.15 316.64 268.14 318.32 270.13 319.97C272.13 321.62 274.12 323.25 276.12 324.84C278.11 326.43 280.10 328.00 282.10 329.53C284.09 331.07 286.08 332.58 288.08 334.06C290.07 335.54 292.06 337.00 294.06 338.43C296.05 339.87 298.05 341.28 300.04 342.66C302.03 344.05 304.03 345.42 306.02 346.76C308.01 348.11 310.01 349.43 312.00 350.74C314.00 352.04 315.99 353.33 317.98 354.60C319.98 355.87 321.97 357.12 323.96 358.36C325.96 359.60 327.95 360.82 329.94 362.03C331.94 363.24 333.93 364.44 335.93 365.62C337.92 366.80 339.91 367.97 341.91 369.12C343.90 370.27 345.89 371.42 347.89 372.54C349.88 373.67 351.88 374.78 353.87 375.88C355.86 376.98 357.86 378.07 359.85 379.14C361.84 380.21 363.84 381.27 365.83 382.31C367.82 383.36 369.82 384.39 371.81 385.41C373.81 386.43 375.80 387.44 377.79 388.43C379.79 389.42 381.78 390.40 383.77 391.37C385.77 392.33 387.76 393.29 389.76 394.23C391.75 395.17 393.74 396.09 395.74 397.01C397.73 397.92 399.72 398.82 401.72 399.71C403.71 400.59 405.70 401.47 407.70 402.32C409.69 403.18 411.69 404.03 413.68 404.85C415.67 405.68 417.67 406.50 419.66 407.30C421.65 408.09 423.65 408.88 425.64 409.64C427.64 410.41 429.63 411.16 431.62 411.89C433.62 412.63 435.61 413.34 437.60 414.05C439.60 414.75 441.59 415.43 443.58 416.10C445.58 416.76 447.57 417.41 449.57 418.04C451.56 418.67 453.55 419.28 455.55 419.87C457.54 420.47 459.53 421.04 461.53 421.60C463.52 422.15 465.51 422.69 467.51 423.21C469.50 423.72 471.50 424.22 473.49 424.70C475.48 425.17 477.48 425.62 479.47 426.04C481.46 426.46 483.46 426.86 485.45 427.23C487.45 427.59 489.44 427.93 491.43 428.23C493.43 428.53 495.42 428.80 497.41 429.03C499.41 429.26 501.40 429.46 503.39 429.61C505.39 429.76 507.38 429.88 509.38 429.95C511.37 430.02 513.36 430.04 515.36 430.02C517.35 430.00 519.34 429.93 521.34 429.81C523.33 429.69 525.33 429.52 527.32 429.32C529.31 429.12 531.31 428.88 533.30 428.61C535.29 428.34 537.29 428.04 539.28 427.72C541.27 427.40 543.27 427.06 545.26 426.71C547.26 426.36 549.25 426.00 551.24 425.63C553.24 425.26 555.23 424.90 557.22 424.53C559.22 424.17 561.21 423.81 563.21 423.46C565.20 423.11 567.19 422.77 569.19 422.44C571.18 422.11 573.17 421.79 575.17 421.48C577.16 421.17 579.15 420.88 581.15 420.61C583.14 420.34 585.14 420.09 587.13 419.86C589.12 419.63 591.12 419.42 593.11 419.24C595.10 419.06 597.10 418.90 599.09 418.78C601.09 418.65 603.08 418.55 605.07 418.49C607.07 418.43 609.06 418.40 611.05 418.41C613.05 418.42 615.04 418.46 617.03 418.55C619.03 418.63 621.02 418.76 623.02 418.93C625.01 419.10 627.00 419.32 629.00 419.58C630.99 419.84 632.98 420.15 634.98 420.50C636.97 420.84 638.96 421.23 640.96 421.65C642.95 422.07 644.95 422.52 646.94 422.99C648.93 423.47 650.93 423.97 652.92 424.49C654.91 425.02 656.91 425.56 658.90 426.11C660.90 426.67 662.89 427.24 664.88 427.81C666.88 428.38 668.87 428.97 670.86 429.55C672.86 430.13 674.85 430.71 676.84 431.29C678.84 431.86 680.83 432.43 682.83 432.99C684.82 433.55 686.81 434.09 688.81 434.62C690.80 435.15 692.79 435.65 694.79 436.14C696.78 436.62 698.78 437.08 700.77 437.50C702.76 437.93 704.76 438.32 706.75 438.67C708.74 439.03 710.74 439.35 712.73 439.62C714.72 439.89 716.72 440.12 718.71 440.29C720.71 440.47 722.70 440.59 724.69 440.65C726.69 440.71 728.68 440.72 730.67 440.65C732.67 440.58 734.66 440.45 736.66 440.24C738.65 440.04 740.64 439.76 742.64 439.39C744.63 439.03 746.62 438.58 748.62 438.05C750.61 437.51 752.60 436.89 754.60 436.17C756.59 435.45 758.59 434.63 760.58 433.71C762.57 432.79 764.57 431.76 766.56 430.63C768.55 429.49 770.55 428.25 772.54 426.89C774.54 425.53 776.53 424.06 778.52 422.47C780.52 420.87 782.51 419.16 784.50 417.32C786.50 415.48 788.49 413.52 790.48 411.42C792.48 409.33 794.47 407.10 796.47 404.74C798.46 402.38 800.45 399.90 802.45 397.51C804.44 395.12 806.43 392.82 808.43 390.82C810.42 388.83 812.41 387.14 814.41 385.94C816.40 384.74 818.40 384.03 820.39 384.00C822.38 383.96 824.38 384.57 826.37 385.71C828.36 386.85 830.36 388.51 832.35 390.57C834.35 392.63 836.34 395.10 838.33 397.75C840.33 400.41 842.32 403.24 844.31 405.99C846.31 408.75 848.30 411.42 850.29 413.77C852.29 416.11 854.28 418.14 856.28 419.53C858.27 420.92 860.26 421.63 862.26 421.26C864.25 420.89 866.24 419.49 868.24 417.61C870.23 415.72 872.23 413.35 874.22 411.02C876.21 408.69 878.21 406.40 880.20 404.70" stroke="#009fe8" stroke-width="2.4" fill="none" stroke-linecap="butt" stroke-linejoin="round"/>
<path d="M186.70 255.31C188.69 257.64 190.68 259.96 192.67 262.26C194.66 264.55 196.65 266.83 198.64 269.09C200.63 271.35 202.62 273.59 204.61 275.81C206.60 278.03 208.59 280.23 210.58 282.42C212.57 284.60 214.56 286.76 216.55 288.91C218.54 291.05 220.53 293.18 222.52 295.29C224.51 297.39 226.50 299.48 228.49 301.55C230.49 303.62 232.48 305.66 234.47 307.69C236.46 309.72 238.45 311.73 240.44 313.72C242.43 315.72 244.42 317.69 246.41 319.64C248.40 321.59 250.39 323.52 252.38 325.44C254.37 327.35 256.36 329.24 258.35 331.12C260.34 332.99 262.33 334.84 264.32 336.68C266.31 338.51 268.30 340.33 270.29 342.12C272.28 343.92 274.27 345.69 276.26 347.45C278.25 349.20 280.24 350.94 282.23 352.66C284.22 354.37 286.21 356.07 288.20 357.74C290.19 359.42 292.18 361.08 294.17 362.71C296.16 364.35 298.15 365.96 300.14 367.56C302.13 369.15 304.12 370.73 306.11 372.29C308.10 373.84 310.09 375.38 312.08 376.89C314.07 378.41 316.06 379.90 318.06 381.38C320.05 382.85 322.04 384.30 324.03 385.74C326.02 387.17 328.01 388.59 330.00 389.98C331.99 391.37 333.98 392.74 335.97 394.10C337.96 395.45 339.95 396.78 341.94 398.09C343.93 399.40 345.92 400.69 347.91 401.96C349.90 403.23 351.89 404.48 353.88 405.71C355.87 406.94 357.86 408.14 359.85 409.33C361.84 410.52 363.83 411.68 365.82 412.83C367.81 413.97 369.80 415.10 371.79 416.20C373.78 417.30 375.77 418.38 377.76 419.44C379.75 420.51 381.74 421.55 383.73 422.56C385.72 423.58 387.71 424.58 389.70 425.56C391.69 426.53 393.68 427.49 395.67 428.42C397.66 429.36 399.65 430.27 401.64 431.16C403.64 432.05 405.63 432.92 407.62 433.77C409.61 434.62 411.60 435.45 413.59 436.26C415.58 437.06 417.57 437.85 419.56 438.61C421.55 439.37 423.54 440.12 425.53 440.84C427.52 441.56 429.51 442.25 431.50 442.93C433.49 443.61 435.48 444.26 437.47 444.90C439.46 445.53 441.45 446.15 443.44 446.74C445.43 447.33 447.42 447.90 449.41 448.45C451.40 449.00 453.39 449.53 455.38 450.03C457.37 450.54 459.36 451.03 461.35 451.49C463.34 451.95 465.33 452.40 467.32 452.82C469.31 453.24 471.30 453.65 473.29 454.03C475.28 454.41 477.27 454.77 479.26 455.11C481.25 455.45 483.24 455.77 485.23 456.07C487.22 456.36 489.21 456.64 491.21 456.90C493.20 457.16 495.19 457.39 497.18 457.61C499.17 457.82 501.16 458.02 503.15 458.20C505.14 458.37 507.13 458.53 509.12 458.66C511.11 458.79 513.10 458.91 515.09 459.00C517.08 459.10 519.07 459.17 521.06 459.23C523.05 459.28 525.04 459.31 527.03 459.33C529.02 459.34 531.01 459.34 533.00 459.31C534.99 459.28 536.98 459.24 538.97 459.17C540.96 459.11 542.95 459.02 544.94 458.92C546.93 458.81 548.92 458.69 550.91 458.54C552.90 458.40 554.89 458.23 556.88 458.05C558.87 457.87 560.86 457.67 562.85 457.46C564.84 457.25 566.83 457.03 568.82 456.80C570.81 456.58 572.80 456.35 574.79 456.12C576.79 455.90 578.78 455.67 580.77 455.46C582.76 455.24 584.75 455.04 586.74 454.85C588.73 454.66 590.72 454.49 592.71 454.34C594.70 454.19 596.69 454.06 598.68 453.96C600.67 453.86 602.66 453.79 604.65 453.76C606.64 453.72 608.63 453.73 610.62 453.77C612.61 453.81 614.60 453.90 616.59 454.04C618.58 454.17 620.57 454.36 622.56 454.60C624.55 454.84 626.54 455.14 628.53 455.49C630.52 455.85 632.51 456.27 634.50 456.73C636.49 457.18 638.48 457.68 640.47 458.21C642.46 458.74 644.45 459.30 646.44 459.87C648.43 460.45 650.42 461.03 652.41 461.61C654.40 462.20 656.39 462.78 658.38 463.38C660.37 463.99 662.36 464.61 664.36 465.27C666.35 465.93 668.34 466.64 670.33 467.38C672.32 468.12 674.31 468.89 676.30 469.68C678.29 470.47 680.28 471.27 682.27 472.07C684.26 472.87 686.25 473.68 688.24 474.46C690.23 475.24 692.22 476.01 694.21 476.74C696.20 477.47 698.19 478.17 700.18 478.82C702.17 479.46 704.16 480.06 706.15 480.59C708.14 481.12 710.13 481.59 712.12 482.00C714.11 482.40 716.10 482.73 718.09 482.99C720.08 483.25 722.07 483.43 724.06 483.52C726.05 483.62 728.04 483.63 730.03 483.55C732.02 483.47 734.01 483.30 736.00 483.03C737.99 482.76 739.98 482.39 741.97 481.92C743.96 481.44 745.95 480.86 747.94 480.16C749.94 479.47 751.93 478.66 753.92 477.72C755.91 476.79 757.90 475.73 759.89 474.55C761.88 473.37 763.87 472.05 765.86 470.62C767.85 469.20 769.84 467.66 771.83 466.04C773.82 464.41 775.81 462.70 777.80 460.93C779.79 459.15 781.78 457.32 783.77 455.44C785.76 453.56 787.75 451.64 789.74 449.70C791.73 447.76 793.72 445.81 795.71 443.86C797.70 441.91 799.69 439.97 801.68 438.05C803.67 436.14 805.66 434.25 807.65 432.42C809.64 430.58 811.63 428.73 813.62 427.20C815.61 425.66 817.60 424.48 819.59 424.13C821.58 423.78 823.57 424.26 825.56 425.25C827.55 426.24 829.54 427.74 831.53 429.40C833.52 431.07 835.51 432.86 837.51 434.62C839.50 436.39 841.49 438.17 843.48 439.94C845.47 441.72 847.46 443.48 849.45 445.21C851.44 446.94 853.43 448.70 855.42 450.25C857.41 451.80 859.40 453.00 861.39 452.90C863.38 452.79 865.37 451.29 867.36 449.07C869.35 446.85 871.34 443.91 873.33 440.96C875.32 438.02 877.31 435.06 879.30 432.80" stroke="#009fe8" stroke-width="2.4" fill="none" stroke-linecap="butt" stroke-linejoin="round"/>
<path d="M184.20 271.90C186.20 274.48 188.19 277.03 190.19 279.56C192.19 282.08 194.18 284.57 196.18 287.04C198.18 289.51 200.17 291.95 202.17 294.36C204.17 296.78 206.16 299.16 208.16 301.52C210.16 303.89 212.15 306.22 214.15 308.53C216.14 310.83 218.14 313.12 220.14 315.37C222.13 317.63 224.13 319.86 226.13 322.06C228.12 324.27 230.12 326.45 232.12 328.60C234.11 330.76 236.11 332.89 238.11 334.99C240.10 337.10 242.10 339.18 244.10 341.23C246.09 343.29 248.09 345.32 250.09 347.33C252.08 349.34 254.08 351.32 256.08 353.28C258.07 355.24 260.07 357.18 262.07 359.10C264.06 361.01 266.06 362.90 268.06 364.77C270.05 366.64 272.05 368.49 274.04 370.31C276.04 372.13 278.04 373.94 280.03 375.72C282.03 377.50 284.03 379.25 286.02 380.99C288.02 382.73 290.02 384.44 292.01 386.14C294.01 387.83 296.01 389.50 298.00 391.16C300.00 392.81 302.00 394.44 303.99 396.05C305.99 397.66 307.99 399.25 309.98 400.82C311.98 402.39 313.98 403.94 315.97 405.48C317.97 407.01 319.97 408.52 321.96 410.01C323.96 411.50 325.96 412.98 327.95 414.43C329.95 415.89 331.94 417.32 333.94 418.74C335.94 420.16 337.93 421.55 339.93 422.93C341.93 424.31 343.92 425.67 345.92 427.01C347.92 428.36 349.91 429.68 351.91 430.98C353.91 432.29 355.90 433.57 357.90 434.84C359.90 436.10 361.89 437.35 363.89 438.58C365.89 439.81 367.88 441.01 369.88 442.21C371.88 443.40 373.87 444.57 375.87 445.72C377.87 446.87 379.86 448.01 381.86 449.12C383.86 450.23 385.85 451.33 387.85 452.41C389.84 453.48 391.84 454.54 393.84 455.58C395.83 456.62 397.83 457.64 399.83 458.64C401.82 459.64 403.82 460.62 405.82 461.59C407.81 462.55 409.81 463.49 411.81 464.42C413.80 465.34 415.80 466.25 417.80 467.14C419.79 468.02 421.79 468.89 423.79 469.74C425.78 470.59 427.78 471.42 429.78 472.23C431.77 473.04 433.77 473.83 435.77 474.60C437.76 475.37 439.76 476.12 441.76 476.86C443.75 477.59 445.75 478.30 447.74 478.99C449.74 479.68 451.74 480.35 453.73 481.00C455.73 481.65 457.73 482.28 459.72 482.89C461.72 483.50 463.72 484.08 465.71 484.65C467.71 485.21 469.71 485.76 471.70 486.28C473.70 486.80 475.70 487.30 477.69 487.78C479.69 488.26 481.69 488.71 483.68 489.14C485.68 489.58 487.68 489.99 489.67 490.37C491.67 490.76 493.67 491.13 495.66 491.47C497.66 491.81 499.66 492.13 501.65 492.42C503.65 492.72 505.64 492.99 507.64 493.23C509.64 493.48 511.63 493.70 513.63 493.90C515.63 494.10 517.62 494.27 519.62 494.42C521.62 494.57 523.61 494.70 525.61 494.80C527.61 494.90 529.60 494.98 531.60 495.04C533.60 495.10 535.59 495.14 537.59 495.16C539.59 495.19 541.58 495.19 543.58 495.18C545.58 495.17 547.57 495.14 549.57 495.10C551.57 495.06 553.56 495.01 555.56 494.94C557.56 494.88 559.55 494.81 561.55 494.72C563.54 494.64 565.54 494.55 567.54 494.45C569.53 494.35 571.53 494.24 573.53 494.14C575.52 494.03 577.52 493.92 579.52 493.81C581.51 493.70 583.51 493.59 585.51 493.48C587.50 493.38 589.50 493.28 591.50 493.19C593.49 493.09 595.49 493.01 597.49 492.94C599.48 492.87 601.48 492.81 603.48 492.77C605.47 492.72 607.47 492.70 609.47 492.69C611.46 492.68 613.46 492.69 615.46 492.72C617.45 492.76 619.45 492.82 621.44 492.90C623.44 492.98 625.44 493.10 627.43 493.24C629.43 493.38 631.43 493.55 633.42 493.76C635.42 493.97 637.42 494.21 639.41 494.49C641.41 494.77 643.41 495.08 645.40 495.45C647.40 495.81 649.40 496.22 651.39 496.68C653.39 497.14 655.39 497.65 657.38 498.22C659.38 498.79 661.38 499.41 663.37 500.10C665.37 500.78 667.37 501.54 669.36 502.35C671.36 503.16 673.36 504.02 675.35 504.93C677.35 505.84 679.34 506.78 681.34 507.76C683.34 508.73 685.33 509.73 687.33 510.74C689.33 511.75 691.32 512.77 693.32 513.77C695.32 514.78 697.31 515.78 699.31 516.73C701.31 517.69 703.30 518.61 705.30 519.47C707.30 520.34 709.29 521.14 711.29 521.85C713.29 522.57 715.28 523.20 717.28 523.72C719.28 524.25 721.27 524.66 723.27 524.95C725.27 525.23 727.26 525.38 729.26 525.38C731.26 525.37 733.25 525.20 735.25 524.87C737.24 524.53 739.24 524.04 741.24 523.39C743.23 522.74 745.23 521.94 747.23 521.01C749.22 520.08 751.22 519.01 753.22 517.82C755.21 516.63 757.21 515.32 759.21 513.90C761.20 512.49 763.20 510.96 765.20 509.35C767.19 507.73 769.19 506.02 771.19 504.24C773.18 502.45 775.18 500.59 777.18 498.66C779.17 496.74 781.17 494.74 783.17 492.71C785.16 490.67 787.16 488.58 789.16 486.45C791.15 484.33 793.15 482.17 795.14 479.99C797.14 477.81 799.14 475.61 801.13 473.43C803.13 471.25 805.13 469.08 807.12 466.99C809.12 464.90 811.12 462.88 813.11 460.97C815.11 459.06 817.11 457.27 819.10 455.64C821.10 454.01 823.10 452.32 825.09 451.44C827.09 450.56 829.09 451.29 831.08 452.95C833.08 454.62 835.08 456.78 837.07 458.67C839.07 460.55 841.07 462.36 843.06 464.11C845.06 465.86 847.06 467.51 849.05 469.30C851.05 471.09 853.04 473.16 855.04 475.50C857.04 477.83 859.03 480.12 861.03 480.53C863.03 480.94 865.02 479.06 867.02 475.87C869.02 472.68 871.01 468.31 873.01 464.44C875.01 460.57 877.00 457.20 879.00 456.00" stroke="#009fe8" stroke-width="2.4" fill="none" stroke-linecap="butt" stroke-linejoin="round"/>
<path d="M184.20 287.40C186.19 290.07 188.19 292.72 190.18 295.33C192.18 297.94 194.17 300.53 196.17 303.09C198.16 305.65 200.15 308.18 202.15 310.69C204.14 313.19 206.14 315.67 208.13 318.12C210.13 320.58 212.12 323.00 214.11 325.40C216.11 327.80 218.10 330.17 220.10 332.52C222.09 334.87 224.09 337.19 226.08 339.49C228.07 341.78 230.07 344.05 232.06 346.30C234.06 348.55 236.05 350.77 238.04 352.97C240.04 355.17 242.03 357.34 244.03 359.49C246.02 361.64 248.02 363.76 250.01 365.87C252.00 367.97 254.00 370.05 255.99 372.10C257.99 374.16 259.98 376.19 261.98 378.20C263.97 380.21 265.96 382.20 267.96 384.17C269.95 386.13 271.95 388.07 273.94 390.00C275.94 391.92 277.93 393.82 279.92 395.70C281.92 397.58 283.91 399.43 285.91 401.27C287.90 403.11 289.90 404.92 291.89 406.72C293.88 408.52 295.88 410.29 297.87 412.05C299.87 413.80 301.86 415.54 303.86 417.25C305.85 418.97 307.84 420.67 309.84 422.34C311.83 424.02 313.83 425.68 315.82 427.32C317.81 428.96 319.81 430.58 321.80 432.18C323.80 433.78 325.79 435.37 327.79 436.94C329.78 438.50 331.77 440.05 333.77 441.58C335.76 443.12 337.76 444.63 339.75 446.13C341.75 447.62 343.74 449.10 345.73 450.56C347.73 452.02 349.72 453.47 351.72 454.89C353.71 456.32 355.71 457.73 357.70 459.12C359.69 460.51 361.69 461.88 363.68 463.24C365.68 464.60 367.67 465.94 369.67 467.26C371.66 468.58 373.65 469.88 375.65 471.17C377.64 472.46 379.64 473.73 381.63 474.98C383.63 476.23 385.62 477.47 387.61 478.69C389.61 479.91 391.60 481.11 393.60 482.29C395.59 483.47 397.59 484.64 399.58 485.79C401.57 486.93 403.57 488.06 405.56 489.18C407.56 490.29 409.55 491.38 411.54 492.46C413.54 493.53 415.53 494.58 417.53 495.62C419.52 496.66 421.52 497.67 423.51 498.67C425.50 499.67 427.50 500.65 429.49 501.61C431.49 502.56 433.48 503.50 435.48 504.42C437.47 505.34 439.46 506.24 441.46 507.11C443.45 507.99 445.45 508.85 447.44 509.68C449.44 510.52 451.43 511.33 453.42 512.12C455.42 512.92 457.41 513.69 459.41 514.44C461.40 515.19 463.40 515.92 465.39 516.62C467.38 517.33 469.38 518.01 471.37 518.67C473.37 519.33 475.36 519.97 477.36 520.58C479.35 521.20 481.34 521.79 483.34 522.36C485.33 522.93 487.33 523.48 489.32 524.00C491.31 524.52 493.31 525.02 495.30 525.49C497.30 525.97 499.29 526.41 501.29 526.84C503.28 527.27 505.27 527.67 507.27 528.04C509.26 528.42 511.26 528.77 513.25 529.10C515.25 529.42 517.24 529.72 519.23 530.00C521.23 530.27 523.22 530.52 525.22 530.74C527.21 530.97 529.21 531.16 531.20 531.34C533.19 531.51 535.19 531.65 537.18 531.77C539.18 531.89 541.17 531.98 543.17 532.04C545.16 532.10 547.15 532.14 549.15 532.16C551.14 532.18 553.14 532.18 555.13 532.15C557.13 532.13 559.12 532.09 561.11 532.04C563.11 531.99 565.10 531.92 567.10 531.84C569.09 531.76 571.09 531.67 573.08 531.58C575.07 531.48 577.07 531.38 579.06 531.28C581.06 531.17 583.05 531.07 585.04 530.96C587.04 530.86 589.03 530.75 591.03 530.66C593.02 530.56 595.02 530.47 597.01 530.40C599.00 530.32 601.00 530.26 602.99 530.22C604.99 530.17 606.98 530.15 608.98 530.15C610.97 530.15 612.96 530.17 614.96 530.22C616.95 530.27 618.95 530.36 620.94 530.47C622.94 530.59 624.93 530.74 626.92 530.93C628.92 531.13 630.91 531.36 632.91 531.64C634.90 531.92 636.90 532.25 638.89 532.62C640.88 533.00 642.88 533.43 644.87 533.91C646.87 534.40 648.86 534.94 650.86 535.55C652.85 536.15 654.84 536.82 656.84 537.55C658.83 538.28 660.83 539.06 662.82 539.88C664.81 540.70 666.81 541.57 668.80 542.46C670.80 543.35 672.79 544.28 674.79 545.22C676.78 546.16 678.77 547.12 680.77 548.08C682.76 549.05 684.76 550.01 686.75 550.98C688.75 551.94 690.74 552.89 692.73 553.82C694.73 554.76 696.72 555.67 698.72 556.55C700.71 557.43 702.71 558.28 704.70 559.08C706.69 559.88 708.69 560.64 710.68 561.34C712.68 562.04 714.67 562.67 716.67 563.21C718.66 563.75 720.65 564.20 722.65 564.52C724.64 564.85 726.64 565.05 728.63 565.10C730.63 565.16 732.62 565.06 734.61 564.78C736.61 564.50 738.60 564.04 740.60 563.40C742.59 562.76 744.59 561.94 746.58 560.96C748.57 559.99 750.57 558.85 752.56 557.58C754.56 556.31 756.55 554.89 758.54 553.36C760.54 551.83 762.53 550.18 764.53 548.42C766.52 546.67 768.52 544.81 770.51 542.87C772.50 540.93 774.50 538.90 776.49 536.81C778.49 534.72 780.48 532.57 782.48 530.37C784.47 528.17 786.46 525.92 788.46 523.64C790.45 521.37 792.45 519.06 794.44 516.75C796.44 514.43 798.43 512.11 800.42 509.80C802.42 507.48 804.41 505.17 806.41 502.90C808.40 500.62 810.40 498.35 812.39 496.17C814.38 494.00 816.38 491.96 818.37 490.27C820.37 488.57 822.36 487.23 824.36 486.45C826.35 485.67 828.34 485.48 830.34 486.02C832.33 486.56 834.33 487.79 836.32 489.51C838.31 491.23 840.31 493.40 842.30 495.66C844.30 497.91 846.29 500.25 848.29 502.31C850.28 504.38 852.27 506.18 854.27 507.41C856.26 508.64 858.26 509.30 860.25 509.16C862.25 509.03 864.24 508.08 866.23 506.11C868.23 504.13 870.22 501.12 872.22 496.83C874.21 492.55 876.21 486.99 878.20 479.92" stroke="#009fe8" stroke-width="2.4" fill="none" stroke-linecap="butt" stroke-linejoin="round"/>
<path d="M181.70 297.70C183.68 299.71 185.67 301.79 187.65 303.93C189.64 306.08 191.62 308.29 193.61 310.56C195.59 312.82 197.57 315.14 199.56 317.49C201.54 319.85 203.53 322.25 205.51 324.67C207.50 327.09 209.48 329.54 211.46 332.01C213.45 334.48 215.43 336.96 217.42 339.44C219.40 341.93 221.39 344.41 223.37 346.89C225.36 349.37 227.34 351.83 229.32 354.28C231.31 356.72 233.29 359.15 235.28 361.53C237.26 363.92 239.25 366.28 241.23 368.58C243.21 370.89 245.20 373.15 247.18 375.35C249.17 377.55 251.15 379.70 253.14 381.77C255.12 383.84 257.10 385.84 259.09 387.81C261.07 389.78 263.06 391.70 265.04 393.63C267.03 395.55 269.01 397.46 270.99 399.40C272.98 401.33 274.96 403.29 276.95 405.30C278.93 407.30 280.92 409.37 282.90 411.45C284.89 413.53 286.87 415.63 288.85 417.70C290.84 419.77 292.82 421.80 294.81 423.76C296.79 425.73 298.78 427.61 300.76 429.38C302.74 431.15 304.73 432.83 306.71 434.49C308.70 436.14 310.68 437.75 312.67 439.40C314.65 441.04 316.63 442.72 318.62 444.42C320.60 446.12 322.59 447.83 324.57 449.53C326.56 451.24 328.54 452.93 330.52 454.60C332.51 456.26 334.49 457.91 336.48 459.53C338.46 461.15 340.45 462.75 342.43 464.33C344.42 465.91 346.40 467.47 348.38 469.01C350.37 470.54 352.35 472.06 354.34 473.55C356.32 475.05 358.31 476.52 360.29 477.97C362.27 479.42 364.26 480.85 366.24 482.25C368.23 483.66 370.21 485.05 372.20 486.41C374.18 487.77 376.16 489.12 378.15 490.44C380.13 491.76 382.12 493.06 384.10 494.34C386.09 495.62 388.07 496.88 390.05 498.11C392.04 499.35 394.02 500.56 396.01 501.76C397.99 502.95 399.98 504.13 401.96 505.28C403.95 506.43 405.93 507.56 407.91 508.67C409.90 509.78 411.88 510.87 413.87 511.94C415.85 513.01 417.84 514.05 419.82 515.08C421.80 516.10 423.79 517.11 425.77 518.09C427.76 519.08 429.74 520.04 431.73 520.98C433.71 521.93 435.69 522.85 437.68 523.75C439.66 524.65 441.65 525.53 443.63 526.39C445.62 527.25 447.60 528.09 449.58 528.91C451.57 529.73 453.55 530.53 455.54 531.30C457.52 532.08 459.51 532.84 461.49 533.58C463.47 534.31 465.46 535.03 467.44 535.72C469.43 536.42 471.41 537.09 473.40 537.75C475.38 538.41 477.37 539.04 479.35 539.65C481.33 540.27 483.32 540.86 485.30 541.44C487.29 542.02 489.27 542.57 491.26 543.11C493.24 543.64 495.22 544.16 497.21 544.66C499.19 545.15 501.18 545.63 503.16 546.09C505.15 546.55 507.13 546.99 509.11 547.41C511.10 547.83 513.08 548.23 515.07 548.61C517.05 548.99 519.04 549.36 521.02 549.70C523.00 550.05 524.99 550.38 526.97 550.69C528.96 550.99 530.94 551.28 532.93 551.56C534.91 551.83 536.90 552.08 538.88 552.32C540.86 552.56 542.85 552.77 544.83 552.98C546.82 553.18 548.80 553.36 550.79 553.53C552.77 553.69 554.75 553.84 556.74 553.97C558.72 554.10 560.71 554.21 562.69 554.31C564.68 554.41 566.66 554.49 568.64 554.55C570.63 554.61 572.61 554.66 574.60 554.70C576.58 554.73 578.57 554.75 580.55 554.77C582.53 554.79 584.52 554.80 586.50 554.81C588.49 554.82 590.47 554.83 592.46 554.84C594.44 554.85 596.43 554.87 598.41 554.89C600.39 554.92 602.38 554.95 604.36 555.00C606.35 555.04 608.33 555.10 610.32 555.18C612.30 555.26 614.28 555.36 616.27 555.48C618.25 555.60 620.24 555.74 622.22 555.91C624.21 556.09 626.19 556.29 628.17 556.52C630.16 556.76 632.14 557.03 634.13 557.33C636.11 557.64 638.10 557.99 640.08 558.37C642.06 558.76 644.05 559.18 646.03 559.64C648.02 560.09 650.00 560.59 651.99 561.11C653.97 561.64 655.95 562.20 657.94 562.79C659.92 563.38 661.91 563.99 663.89 564.64C665.88 565.29 667.86 565.96 669.85 566.66C671.83 567.36 673.81 568.09 675.80 568.84C677.78 569.58 679.77 570.35 681.75 571.14C683.74 571.93 685.72 572.75 687.70 573.57C689.69 574.40 691.67 575.25 693.66 576.10C695.64 576.94 697.63 577.79 699.61 578.61C701.59 579.43 703.58 580.23 705.56 580.98C707.55 581.74 709.53 582.45 711.52 583.09C713.50 583.74 715.48 584.32 717.47 584.81C719.45 585.30 721.44 585.71 723.42 586.00C725.41 586.29 727.39 586.47 729.38 586.46C731.36 586.46 733.34 586.27 735.33 585.91C737.31 585.55 739.30 585.02 741.28 584.33C743.27 583.64 745.25 582.79 747.23 581.79C749.22 580.80 751.20 579.66 753.19 578.40C755.17 577.13 757.16 575.73 759.14 574.22C761.12 572.71 763.11 571.09 765.09 569.36C767.08 567.63 769.06 565.81 771.05 563.89C773.03 561.98 775.01 559.98 777.00 557.91C778.98 555.84 780.97 553.70 782.95 551.49C784.94 549.29 786.92 547.04 788.91 544.73C790.89 542.43 792.87 540.09 794.86 537.71C796.84 535.34 798.83 532.93 800.81 530.55C802.80 528.17 804.78 525.82 806.76 523.56C808.75 521.31 810.73 519.15 812.72 517.16C814.70 515.17 816.69 513.34 818.67 511.75C820.65 510.16 822.64 508.73 824.62 507.78C826.61 506.83 828.59 506.61 830.58 507.58C832.56 508.54 834.54 510.46 836.53 512.69C838.51 514.93 840.50 517.48 842.48 519.73C844.47 521.98 846.45 523.99 848.44 525.62C850.42 527.25 852.40 528.50 854.39 529.27C856.37 530.03 858.36 530.29 860.34 529.98C862.33 529.66 864.31 528.79 866.29 527.35C868.28 525.92 870.26 523.94 872.25 521.18C874.23 518.42 876.22 514.88 878.20 510.30" stroke="#009fe8" stroke-width="2.4" fill="none" stroke-linecap="butt" stroke-linejoin="round" stroke-dasharray="3.2 3.6"/>
</svg>
<div class="t n" style="left:124.00px;width:200px;margin-left:-100px;text-align:center;top:26.50px;font-size:21.50px;">140</div>
<div class="t n" style="left:124.00px;width:200px;margin-left:-100px;text-align:center;top:99.20px;font-size:21.50px;">120</div>
<div class="t n" style="left:124.00px;width:200px;margin-left:-100px;text-align:center;top:172.00px;font-size:21.50px;">100</div>
<div class="t n" style="left:124.30px;width:200px;margin-left:-100px;text-align:center;top:244.70px;font-size:21.50px;">80</div>
<div class="t n" style="left:124.30px;width:200px;margin-left:-100px;text-align:center;top:321.80px;font-size:21.50px;">60</div>
<div class="t n" style="left:124.30px;width:200px;margin-left:-100px;text-align:center;top:402.80px;font-size:21.50px;">40</div>
<div class="t n" style="left:124.30px;width:200px;margin-left:-100px;text-align:center;top:471.55px;font-size:21.50px;">20</div>
<div class="t n" style="left:124.30px;width:200px;margin-left:-100px;text-align:center;top:548.40px;font-size:21.50px;">0</div>
<div class="t n" style="left:178.30px;width:200px;margin-left:-100px;text-align:center;top:612.90px;font-size:21.50px;">20</div>
<div class="t n" style="left:355.70px;width:200px;margin-left:-100px;text-align:center;top:612.90px;font-size:21.50px;">100</div>
<div class="t n" style="left:425.70px;width:200px;margin-left:-100px;text-align:center;top:612.90px;font-size:21.50px;">200</div>
<div class="t n" style="left:597.00px;width:200px;margin-left:-100px;text-align:center;top:612.90px;font-size:21.50px;">1<span style="font-size:1.28em;line-height:0;position:relative;top:4.8px;margin-left:0.6px;margin-right:-3.4px">˙</span>000</div>
<div class="t n" style="left:667.90px;width:200px;margin-left:-100px;text-align:center;top:612.90px;font-size:21.50px;">2<span style="font-size:1.28em;line-height:0;position:relative;top:4.8px;margin-left:0.6px;margin-right:-3.4px">˙</span>000</div>
<div class="t n" style="left:834.00px;width:200px;margin-left:-100px;text-align:center;top:612.90px;font-size:21.50px;">10<span style="font-size:1.28em;line-height:0;position:relative;top:4.8px;margin-left:0.6px;margin-right:-3.4px">˙</span>000</div>
<div class="t n" style="left:628.90px;width:200px;margin-left:-100px;text-align:center;top:55.67px;font-size:19.00px;">130</div>
<div class="t n" style="left:628.90px;width:200px;margin-left:-100px;text-align:center;top:94.32px;font-size:19.00px;">120</div>
<div class="t n" style="left:628.90px;width:200px;margin-left:-100px;text-align:center;top:132.72px;font-size:19.00px;">110</div>
<div class="t n" style="left:628.90px;width:200px;margin-left:-100px;text-align:center;top:171.52px;font-size:19.00px;">100</div>
<div class="t n" style="left:628.90px;width:200px;margin-left:-100px;text-align:center;top:201.62px;font-size:19.00px;">90</div>
<div class="t n" style="left:628.90px;width:200px;margin-left:-100px;text-align:center;top:239.62px;font-size:19.00px;">80</div>
<div class="t n" style="left:628.90px;width:200px;margin-left:-100px;text-align:center;top:278.22px;font-size:19.00px;">70</div>
<div class="t n" style="left:628.90px;width:200px;margin-left:-100px;text-align:center;top:316.72px;font-size:19.00px;">60</div>
<div class="t n" style="left:628.90px;width:200px;margin-left:-100px;text-align:center;top:359.62px;font-size:19.00px;">50</div>
<div class="t n" style="left:628.90px;width:200px;margin-left:-100px;text-align:center;top:393.97px;font-size:19.00px;">40</div>
<div class="t n" style="left:628.90px;width:200px;margin-left:-100px;text-align:center;top:428.62px;font-size:19.00px;">30</div>
<div class="t n" style="left:628.90px;width:200px;margin-left:-100px;text-align:center;top:470.92px;font-size:19.00px;">20</div>
<div class="t n" style="left:628.90px;width:200px;margin-left:-100px;text-align:center;top:505.42px;font-size:19.00px;">10</div>
<div class="t n" style="left:628.20px;width:200px;margin-left:-100px;text-align:center;top:534.82px;font-size:19.00px;">0</div>
<div class="t d" style="left:603.30px;top:578.85px;font-size:16.60px;transform:scaleX(1.135);-webkit-text-stroke:0.3px #000;">phone</div>
<div class="t d" style="left:7.80px;top:4.94px;font-size:18.50px;transform:scaleX(1.14);-webkit-text-stroke:0.2px #000;">Niveau de</div>
<div class="t d" style="left:7.90px;top:27.34px;font-size:18.50px;transform:scaleX(1.131);-webkit-text-stroke:0.2px #000;">pression</div>
<div class="t d" style="left:7.90px;top:49.84px;font-size:18.50px;transform:scaleX(1.048);-webkit-text-stroke:0.2px #000;">(dB SPL)</div>
<div class="t dr" style="right:75.80px;top:644.74px;font-size:18.50px;transform:scaleX(1.132);-webkit-text-stroke:0.2px #000;">Fréquence (Hz)</div>
</body></html>
